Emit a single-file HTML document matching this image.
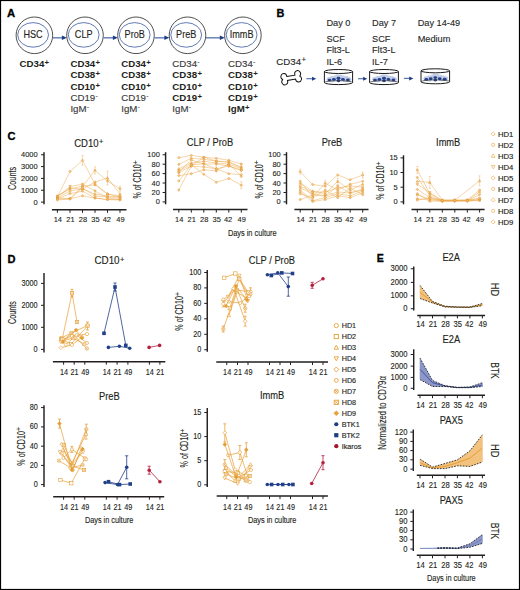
<!DOCTYPE html>
<html><head><meta charset="utf-8"><style>
html,body{margin:0;padding:0;background:#fff;}
body{width:520px;height:590px;overflow:hidden;}
svg{display:block;font-family:"Liberation Sans", sans-serif;}
</style></head><body>
<svg width="520" height="590" viewBox="0 0 520 590">
<rect x="0.5" y="0.5" width="519" height="589" fill="none" stroke="#000" stroke-width="1.2"/>
<text x="7.1" y="16.6" font-size="11.3" font-weight="bold" fill="#000" stroke="#000" stroke-width="0.3">A</text>
<circle cx="34.4" cy="35.3" r="18.3" fill="none" stroke="#3c3c3c" stroke-width="0.9"/>
<ellipse cx="33.1" cy="34.9" rx="15.4" ry="12.3" fill="none" stroke="#4f6cab" stroke-width="0.9"/>
<text x="33.1" y="37.8" font-size="10.28" text-anchor="middle" fill="#231f20" stroke="#231f20" stroke-width="0.14" textLength="19.21" lengthAdjust="spacingAndGlyphs">HSC</text>
<circle cx="85.0" cy="35.3" r="18.3" fill="none" stroke="#3c3c3c" stroke-width="0.9"/>
<ellipse cx="83.7" cy="34.9" rx="15.4" ry="12.3" fill="none" stroke="#4f6cab" stroke-width="0.9"/>
<text x="83.7" y="37.8" font-size="10.28" text-anchor="middle" fill="#231f20" stroke="#231f20" stroke-width="0.14" textLength="17.70" lengthAdjust="spacingAndGlyphs">CLP</text>
<circle cx="136.0" cy="35.3" r="18.3" fill="none" stroke="#3c3c3c" stroke-width="0.9"/>
<ellipse cx="134.7" cy="34.9" rx="15.4" ry="12.3" fill="none" stroke="#4f6cab" stroke-width="0.9"/>
<text x="134.7" y="37.8" font-size="10.28" text-anchor="middle" fill="#231f20" stroke="#231f20" stroke-width="0.14" textLength="20.23" lengthAdjust="spacingAndGlyphs">ProB</text>
<circle cx="187.5" cy="35.3" r="18.3" fill="none" stroke="#3c3c3c" stroke-width="0.9"/>
<ellipse cx="186.2" cy="34.9" rx="15.4" ry="12.3" fill="none" stroke="#4f6cab" stroke-width="0.9"/>
<text x="186.2" y="37.8" font-size="10.28" text-anchor="middle" fill="#231f20" stroke="#231f20" stroke-width="0.14" textLength="20.23" lengthAdjust="spacingAndGlyphs">PreB</text>
<circle cx="242.9" cy="35.3" r="18.3" fill="none" stroke="#3c3c3c" stroke-width="0.9"/>
<ellipse cx="241.6" cy="34.9" rx="15.4" ry="12.3" fill="none" stroke="#4f6cab" stroke-width="0.9"/>
<text x="241.6" y="37.8" font-size="10.28" text-anchor="middle" fill="#231f20" stroke="#231f20" stroke-width="0.14" textLength="23.76" lengthAdjust="spacingAndGlyphs">ImmB</text>
<line x1="52.7" y1="37.8" x2="62.7" y2="37.8" stroke="#6a84b8" stroke-width="1.5"/>
<path d="M61.900000000000006,35.6 L66.9,37.8 L61.900000000000006,40.1 Z" fill="#1f3d84"/>
<line x1="103.3" y1="37.8" x2="113.7" y2="37.8" stroke="#6a84b8" stroke-width="1.5"/>
<path d="M112.9,35.6 L117.9,37.8 L112.9,40.1 Z" fill="#1f3d84"/>
<line x1="154.3" y1="37.8" x2="165.2" y2="37.8" stroke="#6a84b8" stroke-width="1.5"/>
<path d="M164.39999999999998,35.6 L169.39999999999998,37.8 L164.39999999999998,40.1 Z" fill="#1f3d84"/>
<line x1="205.8" y1="37.8" x2="220.6" y2="37.8" stroke="#6a84b8" stroke-width="1.5"/>
<path d="M219.79999999999998,35.6 L224.79999999999998,37.8 L219.79999999999998,40.1 Z" fill="#1f3d84"/>
<text x="19.5" y="66.9" font-size="9.7" font-weight="bold" fill="#231f20">CD34<tspan dx="0.3" dy="-1.9" font-size="7.8">+</tspan></text>
<text x="70.4" y="66.9" font-size="9.7" font-weight="bold" fill="#231f20">CD34<tspan dx="0.3" dy="-1.9" font-size="7.8">+</tspan></text>
<text x="70.4" y="78.2" font-size="9.7" font-weight="bold" fill="#231f20">CD38<tspan dx="0.3" dy="-1.9" font-size="7.8">+</tspan></text>
<text x="70.4" y="89.5" font-size="9.7" font-weight="bold" fill="#231f20">CD10<tspan dx="0.3" dy="-1.9" font-size="7.8">+</tspan></text>
<text x="70.4" y="100.80000000000001" font-size="9.7" fill="#3a3a3a" stroke="#3a3a3a" stroke-width="0.14">CD19<tspan dx="0.2" dy="-3.3" font-size="7.0">-</tspan></text>
<text x="70.4" y="112.10000000000001" font-size="9.7" fill="#3a3a3a" stroke="#3a3a3a" stroke-width="0.14">IgM<tspan dx="0.2" dy="-3.3" font-size="7.0">-</tspan></text>
<text x="121.2" y="66.9" font-size="9.7" font-weight="bold" fill="#231f20">CD34<tspan dx="0.3" dy="-1.9" font-size="7.8">+</tspan></text>
<text x="121.2" y="78.2" font-size="9.7" font-weight="bold" fill="#231f20">CD38<tspan dx="0.3" dy="-1.9" font-size="7.8">+</tspan></text>
<text x="121.2" y="89.5" font-size="9.7" font-weight="bold" fill="#231f20">CD10<tspan dx="0.3" dy="-1.9" font-size="7.8">+</tspan></text>
<text x="121.2" y="100.80000000000001" font-size="9.7" fill="#3a3a3a" stroke="#3a3a3a" stroke-width="0.14">CD19<tspan dx="0.2" dy="-3.3" font-size="7.0">-</tspan></text>
<text x="121.2" y="112.10000000000001" font-size="9.7" fill="#3a3a3a" stroke="#3a3a3a" stroke-width="0.14">IgM<tspan dx="0.2" dy="-3.3" font-size="7.0">-</tspan></text>
<text x="172.3" y="66.9" font-size="9.7" fill="#3a3a3a" stroke="#3a3a3a" stroke-width="0.14">CD34<tspan dx="0.2" dy="-3.3" font-size="7.0">-</tspan></text>
<text x="172.3" y="78.2" font-size="9.7" font-weight="bold" fill="#231f20">CD38<tspan dx="0.3" dy="-1.9" font-size="7.8">+</tspan></text>
<text x="172.3" y="89.5" font-size="9.7" font-weight="bold" fill="#231f20">CD10<tspan dx="0.3" dy="-1.9" font-size="7.8">+</tspan></text>
<text x="172.3" y="100.80000000000001" font-size="9.7" font-weight="bold" fill="#231f20">CD19<tspan dx="0.3" dy="-1.9" font-size="7.8">+</tspan></text>
<text x="172.3" y="112.10000000000001" font-size="9.7" fill="#3a3a3a" stroke="#3a3a3a" stroke-width="0.14">IgM<tspan dx="0.2" dy="-3.3" font-size="7.0">-</tspan></text>
<text x="228.1" y="66.9" font-size="9.7" fill="#3a3a3a" stroke="#3a3a3a" stroke-width="0.14">CD34<tspan dx="0.2" dy="-3.3" font-size="7.0">-</tspan></text>
<text x="228.1" y="78.2" font-size="9.7" font-weight="bold" fill="#231f20">CD38<tspan dx="0.3" dy="-1.9" font-size="7.8">+</tspan></text>
<text x="228.1" y="89.5" font-size="9.7" font-weight="bold" fill="#231f20">CD10<tspan dx="0.3" dy="-1.9" font-size="7.8">+</tspan></text>
<text x="228.1" y="100.80000000000001" font-size="9.7" font-weight="bold" fill="#231f20">CD19<tspan dx="0.3" dy="-1.9" font-size="7.8">+</tspan></text>
<text x="228.1" y="112.10000000000001" font-size="9.7" font-weight="bold" fill="#231f20">IgM<tspan dx="0.3" dy="-1.9" font-size="7.8">+</tspan></text>
<text x="276.6" y="16.6" font-size="10.9" font-weight="bold" fill="#000" stroke="#000" stroke-width="0.3">B</text>
<text x="326.4" y="26.2" font-size="9.75" fill="#2a2a2a" stroke="#2a2a2a" stroke-width="0.14" textLength="24.03" lengthAdjust="spacingAndGlyphs">Day 0</text>
<text x="326.4" y="42.3" font-size="9.75" fill="#2a2a2a" stroke="#2a2a2a" stroke-width="0.14" textLength="18.40" lengthAdjust="spacingAndGlyphs">SCF</text>
<text x="326.4" y="53.4" font-size="9.75" fill="#2a2a2a" stroke="#2a2a2a" stroke-width="0.14" textLength="23.51" lengthAdjust="spacingAndGlyphs">Flt3-L</text>
<text x="326.4" y="64.6" font-size="9.75" fill="#2a2a2a" stroke="#2a2a2a" stroke-width="0.14" textLength="15.85" lengthAdjust="spacingAndGlyphs">IL-6</text>
<text x="372.0" y="26.2" font-size="9.75" fill="#2a2a2a" stroke="#2a2a2a" stroke-width="0.14" textLength="24.03" lengthAdjust="spacingAndGlyphs">Day 7</text>
<text x="372.0" y="42.3" font-size="9.75" fill="#2a2a2a" stroke="#2a2a2a" stroke-width="0.14" textLength="18.40" lengthAdjust="spacingAndGlyphs">SCF</text>
<text x="372.0" y="53.4" font-size="9.75" fill="#2a2a2a" stroke="#2a2a2a" stroke-width="0.14" textLength="23.51" lengthAdjust="spacingAndGlyphs">Flt3-L</text>
<text x="372.0" y="64.6" font-size="9.75" fill="#2a2a2a" stroke="#2a2a2a" stroke-width="0.14" textLength="15.85" lengthAdjust="spacingAndGlyphs">IL-7</text>
<text x="417.7" y="26.2" font-size="9.75" fill="#2a2a2a" stroke="#2a2a2a" stroke-width="0.14" textLength="42.44" lengthAdjust="spacingAndGlyphs">Day 14-49</text>
<text x="417.7" y="42.3" font-size="9.75" fill="#2a2a2a" stroke="#2a2a2a" stroke-width="0.14" textLength="32.72" lengthAdjust="spacingAndGlyphs">Medium</text>
<text x="276.3" y="64.5" font-size="9.7" fill="#2a2a2a" stroke="#2a2a2a" stroke-width="0.14">CD34<tspan dx="0.3" dy="-2.2" font-size="7.8">+</tspan></text>
<path transform="translate(291.2,77.8) rotate(-9) scale(0.9,0.95)" d="M-4.6,-2.1 L4.6,-2.1 A3.3,3.3 0 1 1 9.7,-0.4 A3.3,3.3 0 1 1 4.6,2.1 L-4.6,2.1 A3.3,3.3 0 1 1 -9.7,0.4 A3.3,3.3 0 1 1 -4.6,-2.1 Z" fill="#fff" stroke="#111" stroke-width="1.0"/>
<line x1="306.3" y1="78.7" x2="312.7" y2="78.7" stroke="#5b77b0" stroke-width="1.2"/>
<path d="M312.0,76.7 L316.2,78.7 L312.0,80.7 Z" fill="#1f3d84"/>
<line x1="358.0" y1="78.7" x2="363.8" y2="78.7" stroke="#5b77b0" stroke-width="1.2"/>
<path d="M363.1,76.7 L367.3,78.7 L363.1,80.7 Z" fill="#1f3d84"/>
<line x1="403.9" y1="78.4" x2="409.9" y2="78.4" stroke="#5b77b0" stroke-width="1.2"/>
<path d="M409.2,76.4 L413.4,78.4 L409.2,80.4 Z" fill="#1f3d84"/>
<circle cx="329.0" cy="79.3" r="2.4" fill="#c3cde6"/><circle cx="332.0" cy="78.5" r="2.4" fill="#c3cde6"/><circle cx="335.5" cy="77.7" r="2.4" fill="#c3cde6"/><circle cx="337.7" cy="76.7" r="2.4" fill="#c3cde6"/><circle cx="340.5" cy="76.9" r="2.4" fill="#c3cde6"/><circle cx="343.5" cy="77.9" r="2.4" fill="#c3cde6"/><circle cx="346.5" cy="78.5" r="2.4" fill="#c3cde6"/><circle cx="349.0" cy="79.3" r="2.4" fill="#c3cde6"/><circle cx="332.5" cy="80.1" r="2.4" fill="#c3cde6"/><circle cx="338.5" cy="79.0" r="2.4" fill="#c3cde6"/><circle cx="345.0" cy="79.9" r="2.4" fill="#c3cde6"/><ellipse cx="329.5" cy="80.1" rx="1.9" ry="1.45" fill="#23418c"/><ellipse cx="333.9" cy="79.4" rx="1.9" ry="1.45" fill="#23418c"/><ellipse cx="338.5" cy="78.3" rx="1.9" ry="1.45" fill="#23418c"/><ellipse cx="338.5" cy="80.8" rx="1.9" ry="1.45" fill="#23418c"/><ellipse cx="342.9" cy="79.4" rx="1.9" ry="1.45" fill="#23418c"/><ellipse cx="347.9" cy="80.0" rx="1.9" ry="1.45" fill="#23418c"/>
<path d="M324.4,82.6 A14.100000000000023,1.9 0 0 1 352.6,82.6" fill="none" stroke="#333" stroke-width="0.7"/>
<path d="M324.4,71.5 L324.4,82.6 A14.100000000000023,2 0 0 0 352.6,82.6 L352.6,71.5" fill="none" stroke="#1a1a1a" stroke-width="1.0"/>
<ellipse cx="338.5" cy="71.5" rx="14.100000000000023" ry="2.0" fill="none" stroke="#1a1a1a" stroke-width="1.0"/>
<circle cx="374.5" cy="79.3" r="2.4" fill="#c3cde6"/><circle cx="377.5" cy="78.5" r="2.4" fill="#c3cde6"/><circle cx="381.0" cy="77.7" r="2.4" fill="#c3cde6"/><circle cx="383.2" cy="76.7" r="2.4" fill="#c3cde6"/><circle cx="386.0" cy="76.9" r="2.4" fill="#c3cde6"/><circle cx="389.0" cy="77.9" r="2.4" fill="#c3cde6"/><circle cx="392.0" cy="78.5" r="2.4" fill="#c3cde6"/><circle cx="394.5" cy="79.3" r="2.4" fill="#c3cde6"/><circle cx="378.0" cy="80.1" r="2.4" fill="#c3cde6"/><circle cx="384.0" cy="79.0" r="2.4" fill="#c3cde6"/><circle cx="390.5" cy="79.9" r="2.4" fill="#c3cde6"/><ellipse cx="375.0" cy="80.1" rx="1.9" ry="1.45" fill="#23418c"/><ellipse cx="379.4" cy="79.4" rx="1.9" ry="1.45" fill="#23418c"/><ellipse cx="384.0" cy="78.3" rx="1.9" ry="1.45" fill="#23418c"/><ellipse cx="384.0" cy="80.8" rx="1.9" ry="1.45" fill="#23418c"/><ellipse cx="388.4" cy="79.4" rx="1.9" ry="1.45" fill="#23418c"/><ellipse cx="393.4" cy="80.0" rx="1.9" ry="1.45" fill="#23418c"/>
<path d="M369.6,82.6 A14.399999999999977,1.9 0 0 1 398.4,82.6" fill="none" stroke="#333" stroke-width="0.7"/>
<path d="M369.6,71.5 L369.6,82.6 A14.399999999999977,2 0 0 0 398.4,82.6 L398.4,71.5" fill="none" stroke="#1a1a1a" stroke-width="1.0"/>
<ellipse cx="384.0" cy="71.5" rx="14.399999999999977" ry="2.0" fill="none" stroke="#1a1a1a" stroke-width="1.0"/>
<circle cx="425.8" cy="78.6" r="2.4" fill="#c3cde6"/><circle cx="428.8" cy="77.8" r="2.4" fill="#c3cde6"/><circle cx="432.3" cy="77.0" r="2.4" fill="#c3cde6"/><circle cx="434.5" cy="76.0" r="2.4" fill="#c3cde6"/><circle cx="437.3" cy="76.2" r="2.4" fill="#c3cde6"/><circle cx="440.3" cy="77.2" r="2.4" fill="#c3cde6"/><circle cx="443.3" cy="77.8" r="2.4" fill="#c3cde6"/><circle cx="445.8" cy="78.6" r="2.4" fill="#c3cde6"/><circle cx="429.3" cy="79.39999999999999" r="2.4" fill="#c3cde6"/><circle cx="435.3" cy="78.3" r="2.4" fill="#c3cde6"/><circle cx="441.8" cy="79.2" r="2.4" fill="#c3cde6"/><ellipse cx="426.3" cy="79.39999999999999" rx="1.9" ry="1.45" fill="#23418c"/><ellipse cx="430.7" cy="78.7" rx="1.9" ry="1.45" fill="#23418c"/><ellipse cx="435.3" cy="77.6" rx="1.9" ry="1.45" fill="#23418c"/><ellipse cx="435.3" cy="80.1" rx="1.9" ry="1.45" fill="#23418c"/><ellipse cx="439.7" cy="78.7" rx="1.9" ry="1.45" fill="#23418c"/><ellipse cx="444.7" cy="79.3" rx="1.9" ry="1.45" fill="#23418c"/>
<path d="M421.0,81.8 A14.300000000000011,1.9 0 0 1 449.6,81.8" fill="none" stroke="#333" stroke-width="0.7"/>
<path d="M421.0,70.8 L421.0,81.8 A14.300000000000011,2 0 0 0 449.6,81.8 L449.6,70.8" fill="none" stroke="#1a1a1a" stroke-width="1.0"/>
<ellipse cx="435.3" cy="70.8" rx="14.300000000000011" ry="2.0" fill="none" stroke="#1a1a1a" stroke-width="1.0"/>
<text x="7.5" y="140.1" font-size="11.1" font-weight="bold" fill="#000" stroke="#000" stroke-width="0.3">C</text>
<line x1="44.0" y1="152.2" x2="44.0" y2="204.3" stroke="#231f20" stroke-width="1.45"/>
<line x1="41.0" y1="154.75" x2="44.0" y2="154.75" stroke="#231f20" stroke-width="1.0"/>
<text x="37.6" y="157.25" font-size="8.0" text-anchor="end" textLength="16.6" lengthAdjust="spacingAndGlyphs" fill="#231f20" stroke="#231f20" stroke-width="0.12">4000</text>
<line x1="41.0" y1="166.6" x2="44.0" y2="166.6" stroke="#231f20" stroke-width="1.0"/>
<text x="37.6" y="169.1" font-size="8.0" text-anchor="end" textLength="16.6" lengthAdjust="spacingAndGlyphs" fill="#231f20" stroke="#231f20" stroke-width="0.12">3000</text>
<line x1="41.0" y1="178.4" x2="44.0" y2="178.4" stroke="#231f20" stroke-width="1.0"/>
<text x="37.6" y="180.9" font-size="8.0" text-anchor="end" textLength="16.6" lengthAdjust="spacingAndGlyphs" fill="#231f20" stroke="#231f20" stroke-width="0.12">2000</text>
<line x1="41.0" y1="190.25" x2="44.0" y2="190.25" stroke="#231f20" stroke-width="1.0"/>
<text x="37.6" y="192.75" font-size="8.0" text-anchor="end" textLength="16.6" lengthAdjust="spacingAndGlyphs" fill="#231f20" stroke="#231f20" stroke-width="0.12">1000</text>
<line x1="41.0" y1="202.1" x2="44.0" y2="202.1" stroke="#231f20" stroke-width="1.0"/>
<text x="37.6" y="204.6" font-size="8.0" text-anchor="end" textLength="4.15" lengthAdjust="spacingAndGlyphs" fill="#231f20" stroke="#231f20" stroke-width="0.12">0</text>
<line x1="51.9" y1="209.8" x2="126.5" y2="209.8" stroke="#231f20" stroke-width="1.5"/>
<line x1="57.4" y1="209.8" x2="57.4" y2="212.8" stroke="#231f20" stroke-width="1.0"/>
<line x1="70.0" y1="209.8" x2="70.0" y2="212.8" stroke="#231f20" stroke-width="1.0"/>
<line x1="82.5" y1="209.8" x2="82.5" y2="212.8" stroke="#231f20" stroke-width="1.0"/>
<line x1="95.0" y1="209.8" x2="95.0" y2="212.8" stroke="#231f20" stroke-width="1.0"/>
<line x1="107.5" y1="209.8" x2="107.5" y2="212.8" stroke="#231f20" stroke-width="1.0"/>
<line x1="120.0" y1="209.8" x2="120.0" y2="212.8" stroke="#231f20" stroke-width="1.0"/>
<text x="57.8" y="222.4" font-size="8.0" text-anchor="middle" textLength="8.3" lengthAdjust="spacingAndGlyphs" fill="#231f20" stroke="#231f20" stroke-width="0.12">14</text>
<text x="70.4" y="222.4" font-size="8.0" text-anchor="middle" textLength="8.3" lengthAdjust="spacingAndGlyphs" fill="#231f20" stroke="#231f20" stroke-width="0.12">21</text>
<text x="82.9" y="222.4" font-size="8.0" text-anchor="middle" textLength="8.3" lengthAdjust="spacingAndGlyphs" fill="#231f20" stroke="#231f20" stroke-width="0.12">28</text>
<text x="95.4" y="222.4" font-size="8.0" text-anchor="middle" textLength="8.3" lengthAdjust="spacingAndGlyphs" fill="#231f20" stroke="#231f20" stroke-width="0.12">35</text>
<text x="106.80000000000001" y="222.4" font-size="8.0" text-anchor="middle" textLength="8.3" lengthAdjust="spacingAndGlyphs" fill="#231f20" stroke="#231f20" stroke-width="0.12">42</text>
<text x="120.4" y="222.4" font-size="8.0" text-anchor="middle" textLength="8.3" lengthAdjust="spacingAndGlyphs" fill="#231f20" stroke="#231f20" stroke-width="0.12">49</text>
<line x1="165.6" y1="152.2" x2="165.6" y2="204.3" stroke="#231f20" stroke-width="1.45"/>
<line x1="162.6" y1="154.75" x2="165.6" y2="154.75" stroke="#231f20" stroke-width="1.0"/>
<text x="159.8" y="157.25" font-size="8.0" text-anchor="end" textLength="12.45" lengthAdjust="spacingAndGlyphs" fill="#231f20" stroke="#231f20" stroke-width="0.12">100</text>
<line x1="162.6" y1="164.2" x2="165.6" y2="164.2" stroke="#231f20" stroke-width="1.0"/>
<text x="159.8" y="166.7" font-size="8.0" text-anchor="end" textLength="8.3" lengthAdjust="spacingAndGlyphs" fill="#231f20" stroke="#231f20" stroke-width="0.12">80</text>
<line x1="162.6" y1="173.6" x2="165.6" y2="173.6" stroke="#231f20" stroke-width="1.0"/>
<text x="159.8" y="176.1" font-size="8.0" text-anchor="end" textLength="8.3" lengthAdjust="spacingAndGlyphs" fill="#231f20" stroke="#231f20" stroke-width="0.12">60</text>
<line x1="162.6" y1="183.0" x2="165.6" y2="183.0" stroke="#231f20" stroke-width="1.0"/>
<text x="159.8" y="185.5" font-size="8.0" text-anchor="end" textLength="8.3" lengthAdjust="spacingAndGlyphs" fill="#231f20" stroke="#231f20" stroke-width="0.12">40</text>
<line x1="162.6" y1="192.5" x2="165.6" y2="192.5" stroke="#231f20" stroke-width="1.0"/>
<text x="159.8" y="195.0" font-size="8.0" text-anchor="end" textLength="8.3" lengthAdjust="spacingAndGlyphs" fill="#231f20" stroke="#231f20" stroke-width="0.12">20</text>
<line x1="162.6" y1="201.9" x2="165.6" y2="201.9" stroke="#231f20" stroke-width="1.0"/>
<text x="159.8" y="204.4" font-size="8.0" text-anchor="end" textLength="4.15" lengthAdjust="spacingAndGlyphs" fill="#231f20" stroke="#231f20" stroke-width="0.12">0</text>
<line x1="173.0" y1="209.6" x2="247.5" y2="209.6" stroke="#231f20" stroke-width="1.5"/>
<line x1="178.8" y1="209.6" x2="178.8" y2="212.6" stroke="#231f20" stroke-width="1.0"/>
<line x1="191.3" y1="209.6" x2="191.3" y2="212.6" stroke="#231f20" stroke-width="1.0"/>
<line x1="203.8" y1="209.6" x2="203.8" y2="212.6" stroke="#231f20" stroke-width="1.0"/>
<line x1="216.3" y1="209.6" x2="216.3" y2="212.6" stroke="#231f20" stroke-width="1.0"/>
<line x1="228.8" y1="209.6" x2="228.8" y2="212.6" stroke="#231f20" stroke-width="1.0"/>
<line x1="241.3" y1="209.6" x2="241.3" y2="212.6" stroke="#231f20" stroke-width="1.0"/>
<text x="179.20000000000002" y="222.4" font-size="8.0" text-anchor="middle" textLength="8.3" lengthAdjust="spacingAndGlyphs" fill="#231f20" stroke="#231f20" stroke-width="0.12">14</text>
<text x="191.70000000000002" y="222.4" font-size="8.0" text-anchor="middle" textLength="8.3" lengthAdjust="spacingAndGlyphs" fill="#231f20" stroke="#231f20" stroke-width="0.12">21</text>
<text x="204.20000000000002" y="222.4" font-size="8.0" text-anchor="middle" textLength="8.3" lengthAdjust="spacingAndGlyphs" fill="#231f20" stroke="#231f20" stroke-width="0.12">28</text>
<text x="216.70000000000002" y="222.4" font-size="8.0" text-anchor="middle" textLength="8.3" lengthAdjust="spacingAndGlyphs" fill="#231f20" stroke="#231f20" stroke-width="0.12">35</text>
<text x="228.10000000000002" y="222.4" font-size="8.0" text-anchor="middle" textLength="8.3" lengthAdjust="spacingAndGlyphs" fill="#231f20" stroke="#231f20" stroke-width="0.12">42</text>
<text x="241.70000000000002" y="222.4" font-size="8.0" text-anchor="middle" textLength="8.3" lengthAdjust="spacingAndGlyphs" fill="#231f20" stroke="#231f20" stroke-width="0.12">49</text>
<line x1="286.5" y1="152.2" x2="286.5" y2="204.3" stroke="#231f20" stroke-width="1.45"/>
<line x1="283.5" y1="154.75" x2="286.5" y2="154.75" stroke="#231f20" stroke-width="1.0"/>
<text x="280.7" y="157.25" font-size="8.0" text-anchor="end" textLength="12.45" lengthAdjust="spacingAndGlyphs" fill="#231f20" stroke="#231f20" stroke-width="0.12">100</text>
<line x1="283.5" y1="164.2" x2="286.5" y2="164.2" stroke="#231f20" stroke-width="1.0"/>
<text x="280.7" y="166.7" font-size="8.0" text-anchor="end" textLength="8.3" lengthAdjust="spacingAndGlyphs" fill="#231f20" stroke="#231f20" stroke-width="0.12">80</text>
<line x1="283.5" y1="173.6" x2="286.5" y2="173.6" stroke="#231f20" stroke-width="1.0"/>
<text x="280.7" y="176.1" font-size="8.0" text-anchor="end" textLength="8.3" lengthAdjust="spacingAndGlyphs" fill="#231f20" stroke="#231f20" stroke-width="0.12">60</text>
<line x1="283.5" y1="183.0" x2="286.5" y2="183.0" stroke="#231f20" stroke-width="1.0"/>
<text x="280.7" y="185.5" font-size="8.0" text-anchor="end" textLength="8.3" lengthAdjust="spacingAndGlyphs" fill="#231f20" stroke="#231f20" stroke-width="0.12">40</text>
<line x1="283.5" y1="192.5" x2="286.5" y2="192.5" stroke="#231f20" stroke-width="1.0"/>
<text x="280.7" y="195.0" font-size="8.0" text-anchor="end" textLength="8.3" lengthAdjust="spacingAndGlyphs" fill="#231f20" stroke="#231f20" stroke-width="0.12">20</text>
<line x1="283.5" y1="201.9" x2="286.5" y2="201.9" stroke="#231f20" stroke-width="1.0"/>
<text x="280.7" y="204.4" font-size="8.0" text-anchor="end" textLength="4.15" lengthAdjust="spacingAndGlyphs" fill="#231f20" stroke="#231f20" stroke-width="0.12">0</text>
<line x1="294.4" y1="209.6" x2="368.5" y2="209.6" stroke="#231f20" stroke-width="1.5"/>
<line x1="300.2" y1="209.6" x2="300.2" y2="212.6" stroke="#231f20" stroke-width="1.0"/>
<line x1="312.7" y1="209.6" x2="312.7" y2="212.6" stroke="#231f20" stroke-width="1.0"/>
<line x1="325.2" y1="209.6" x2="325.2" y2="212.6" stroke="#231f20" stroke-width="1.0"/>
<line x1="337.7" y1="209.6" x2="337.7" y2="212.6" stroke="#231f20" stroke-width="1.0"/>
<line x1="350.2" y1="209.6" x2="350.2" y2="212.6" stroke="#231f20" stroke-width="1.0"/>
<line x1="362.7" y1="209.6" x2="362.7" y2="212.6" stroke="#231f20" stroke-width="1.0"/>
<text x="300.59999999999997" y="222.4" font-size="8.0" text-anchor="middle" textLength="8.3" lengthAdjust="spacingAndGlyphs" fill="#231f20" stroke="#231f20" stroke-width="0.12">14</text>
<text x="313.09999999999997" y="222.4" font-size="8.0" text-anchor="middle" textLength="8.3" lengthAdjust="spacingAndGlyphs" fill="#231f20" stroke="#231f20" stroke-width="0.12">21</text>
<text x="325.59999999999997" y="222.4" font-size="8.0" text-anchor="middle" textLength="8.3" lengthAdjust="spacingAndGlyphs" fill="#231f20" stroke="#231f20" stroke-width="0.12">28</text>
<text x="338.09999999999997" y="222.4" font-size="8.0" text-anchor="middle" textLength="8.3" lengthAdjust="spacingAndGlyphs" fill="#231f20" stroke="#231f20" stroke-width="0.12">35</text>
<text x="349.49999999999994" y="222.4" font-size="8.0" text-anchor="middle" textLength="8.3" lengthAdjust="spacingAndGlyphs" fill="#231f20" stroke="#231f20" stroke-width="0.12">42</text>
<text x="363.09999999999997" y="222.4" font-size="8.0" text-anchor="middle" textLength="8.3" lengthAdjust="spacingAndGlyphs" fill="#231f20" stroke="#231f20" stroke-width="0.12">49</text>
<line x1="403.5" y1="155.3" x2="403.5" y2="204.3" stroke="#231f20" stroke-width="1.45"/>
<line x1="400.5" y1="157.9" x2="403.5" y2="157.9" stroke="#231f20" stroke-width="1.0"/>
<text x="397.7" y="160.4" font-size="8.0" text-anchor="end" textLength="8.3" lengthAdjust="spacingAndGlyphs" fill="#231f20" stroke="#231f20" stroke-width="0.12">15</text>
<line x1="400.5" y1="172.5" x2="403.5" y2="172.5" stroke="#231f20" stroke-width="1.0"/>
<text x="397.7" y="175.0" font-size="8.0" text-anchor="end" textLength="8.3" lengthAdjust="spacingAndGlyphs" fill="#231f20" stroke="#231f20" stroke-width="0.12">10</text>
<line x1="400.5" y1="187.2" x2="403.5" y2="187.2" stroke="#231f20" stroke-width="1.0"/>
<text x="397.7" y="189.7" font-size="8.0" text-anchor="end" textLength="4.15" lengthAdjust="spacingAndGlyphs" fill="#231f20" stroke="#231f20" stroke-width="0.12">5</text>
<line x1="400.5" y1="201.9" x2="403.5" y2="201.9" stroke="#231f20" stroke-width="1.0"/>
<text x="397.7" y="204.4" font-size="8.0" text-anchor="end" textLength="4.15" lengthAdjust="spacingAndGlyphs" fill="#231f20" stroke="#231f20" stroke-width="0.12">0</text>
<line x1="411.5" y1="209.6" x2="484.6" y2="209.6" stroke="#231f20" stroke-width="1.5"/>
<line x1="417.3" y1="209.6" x2="417.3" y2="212.6" stroke="#231f20" stroke-width="1.0"/>
<line x1="429.8" y1="209.6" x2="429.8" y2="212.6" stroke="#231f20" stroke-width="1.0"/>
<line x1="442.3" y1="209.6" x2="442.3" y2="212.6" stroke="#231f20" stroke-width="1.0"/>
<line x1="454.8" y1="209.6" x2="454.8" y2="212.6" stroke="#231f20" stroke-width="1.0"/>
<line x1="467.3" y1="209.6" x2="467.3" y2="212.6" stroke="#231f20" stroke-width="1.0"/>
<line x1="479.6" y1="209.6" x2="479.6" y2="212.6" stroke="#231f20" stroke-width="1.0"/>
<text x="417.7" y="222.4" font-size="8.0" text-anchor="middle" textLength="8.3" lengthAdjust="spacingAndGlyphs" fill="#231f20" stroke="#231f20" stroke-width="0.12">14</text>
<text x="430.2" y="222.4" font-size="8.0" text-anchor="middle" textLength="8.3" lengthAdjust="spacingAndGlyphs" fill="#231f20" stroke="#231f20" stroke-width="0.12">21</text>
<text x="442.7" y="222.4" font-size="8.0" text-anchor="middle" textLength="8.3" lengthAdjust="spacingAndGlyphs" fill="#231f20" stroke="#231f20" stroke-width="0.12">28</text>
<text x="455.2" y="222.4" font-size="8.0" text-anchor="middle" textLength="8.3" lengthAdjust="spacingAndGlyphs" fill="#231f20" stroke="#231f20" stroke-width="0.12">35</text>
<text x="466.59999999999997" y="222.4" font-size="8.0" text-anchor="middle" textLength="8.3" lengthAdjust="spacingAndGlyphs" fill="#231f20" stroke="#231f20" stroke-width="0.12">42</text>
<text x="480.0" y="222.4" font-size="8.0" text-anchor="middle" textLength="8.3" lengthAdjust="spacingAndGlyphs" fill="#231f20" stroke="#231f20" stroke-width="0.12">49</text>
<text x="74.2" y="146.6" font-size="10.34" fill="#231f20" stroke="#231f20" stroke-width="0.14"><tspan textLength="24.40" lengthAdjust="spacingAndGlyphs">CD10</tspan><tspan dx="0.5" dy="-2.8" font-size="7.6">+</tspan></text>
<text x="210.0" y="145.9" font-size="10.04" text-anchor="middle" fill="#231f20" stroke="#231f20" stroke-width="0.14" textLength="46.35" lengthAdjust="spacingAndGlyphs">CLP / ProB</text>
<text x="332.0" y="146.2" font-size="10.04" text-anchor="middle" fill="#231f20" stroke="#231f20" stroke-width="0.14" textLength="20.68" lengthAdjust="spacingAndGlyphs">PreB</text>
<text x="448.2" y="146.2" font-size="10.04" text-anchor="middle" fill="#231f20" stroke="#231f20" stroke-width="0.14" textLength="24.28" lengthAdjust="spacingAndGlyphs">ImmB</text>
<text transform="translate(15.7,178.45) rotate(-90)" font-size="10.0" text-anchor="middle" fill="#231f20" stroke="#231f20" stroke-width="0.12" textLength="23.1" lengthAdjust="spacingAndGlyphs">Counts</text>
<text transform="translate(141.3,198.6) rotate(-90)" font-size="10.0" fill="#231f20" stroke="#231f20" stroke-width="0.1"><tspan textLength="34.3" lengthAdjust="spacingAndGlyphs">% of CD10</tspan><tspan dy="-3.6" font-size="7.0">+</tspan></text>
<text transform="translate(262.8,198.6) rotate(-90)" font-size="10.0" fill="#231f20" stroke="#231f20" stroke-width="0.1"><tspan textLength="34.3" lengthAdjust="spacingAndGlyphs">% of CD10</tspan><tspan dy="-3.6" font-size="7.0">+</tspan></text>
<text transform="translate(384.2,199.8) rotate(-90)" font-size="10.0" fill="#231f20" stroke="#231f20" stroke-width="0.1"><tspan textLength="34.3" lengthAdjust="spacingAndGlyphs">% of CD10</tspan><tspan dy="-3.6" font-size="7.0">+</tspan></text>
<text x="227.9" y="235.7" font-size="9.2" textLength="48.7" lengthAdjust="spacingAndGlyphs" fill="#231f20" stroke="#231f20" stroke-width="0.14">Days in culture</text>
<path d="M493.2,131.83 L495.27,133.9 L493.2,135.97 L491.13,133.9 Z" fill="#fff" stroke="#f0b86a" stroke-width="0.8"/>
<text x="498.0" y="136.5" font-size="7.7" fill="#231f20" stroke="#231f20" stroke-width="0.14">HD1</text>
<circle cx="493.2" cy="144.9" r="1.62" fill="#fff" stroke="#f0b86a" stroke-width="0.8"/>
<text x="498.0" y="147.5" font-size="7.7" fill="#231f20" stroke="#231f20" stroke-width="0.14">HD2</text>
<path d="M493.2,153.92000000000002 L495.09,157.34 L491.31,157.34 Z" fill="#fff" stroke="#f0b86a" stroke-width="0.8"/>
<text x="498.0" y="158.5" font-size="7.7" fill="#231f20" stroke="#231f20" stroke-width="0.14">HD3</text>
<path d="M493.2,168.88 L495.09,165.46 L491.31,165.46 Z" fill="#fff" stroke="#f0b86a" stroke-width="0.8"/>
<text x="498.0" y="169.5" font-size="7.7" fill="#231f20" stroke="#231f20" stroke-width="0.14">HD4</text>
<path d="M493.2,175.83 L495.27,177.9 L493.2,179.97 L491.13,177.9 Z" fill="#fff" stroke="#f0b86a" stroke-width="0.8"/>
<text x="498.0" y="180.5" font-size="7.7" fill="#231f20" stroke="#231f20" stroke-width="0.14">HD5</text>
<circle cx="493.2" cy="188.9" r="1.62" fill="#fff" stroke="#f0b86a" stroke-width="0.8"/>
<text x="498.0" y="191.5" font-size="7.7" fill="#231f20" stroke="#231f20" stroke-width="0.14">HD6</text>
<path d="M493.2,197.83 L495.27,199.9 L493.2,201.97 L491.13,199.9 Z" fill="#fff" stroke="#f0b86a" stroke-width="0.8"/>
<text x="498.0" y="202.5" font-size="7.7" fill="#231f20" stroke="#231f20" stroke-width="0.14">HD7</text>
<circle cx="493.2" cy="210.9" r="1.62" fill="#fff" stroke="#f0b86a" stroke-width="0.8"/>
<text x="498.0" y="213.5" font-size="7.7" fill="#231f20" stroke="#231f20" stroke-width="0.14">HD8</text>
<path d="M493.2,219.83 L495.27,221.9 L493.2,223.97 L491.13,221.9 Z" fill="#fff" stroke="#f0b86a" stroke-width="0.8"/>
<text x="498.0" y="224.5" font-size="7.7" fill="#231f20" stroke="#231f20" stroke-width="0.14">HD9</text>
<polyline points="57.4,197 70.0,171.5 82.5,160.4 95.0,184 107.5,194 120.0,197" fill="none" stroke="#eca84b" stroke-width="0.6" opacity="0.8"/>
<path d="M82.5,155.4 L82.5,165.4 M81.5,155.4 L83.5,155.4 M81.5,165.4 L83.5,165.4" stroke="#eca84b" stroke-width="0.5" opacity="0.8"/>
<path d="M57.4,195.6775 L58.7225,197 L57.4,198.3225 L56.0775,197 Z" fill="#f2c080" stroke="#e2962a" stroke-width="0.6" opacity="0.8"/><path d="M70.0,170.1775 L71.3225,171.5 L70.0,172.8225 L68.6775,171.5 Z" fill="#f2c080" stroke="#e2962a" stroke-width="0.6" opacity="0.8"/><path d="M82.5,159.07750000000001 L83.8225,160.4 L82.5,161.7225 L81.1775,160.4 Z" fill="#f2c080" stroke="#e2962a" stroke-width="0.6" opacity="0.8"/><path d="M95.0,182.6775 L96.3225,184 L95.0,185.3225 L93.6775,184 Z" fill="#f2c080" stroke="#e2962a" stroke-width="0.6" opacity="0.8"/><path d="M107.5,192.6775 L108.8225,194 L107.5,195.3225 L106.1775,194 Z" fill="#f2c080" stroke="#e2962a" stroke-width="0.6" opacity="0.8"/><path d="M120.0,195.6775 L121.3225,197 L120.0,198.3225 L118.6775,197 Z" fill="#f2c080" stroke="#e2962a" stroke-width="0.6" opacity="0.8"/>
<polyline points="57.4,198 70.0,198.5 82.5,186.5 95.0,170.4 107.5,181 120.0,188.8" fill="none" stroke="#eca84b" stroke-width="0.6" opacity="0.8"/>
<path d="M95.0,166.9 L95.0,173.9 M94.0,166.9 L96.0,166.9 M94.0,173.9 L96.0,173.9" stroke="#eca84b" stroke-width="0.5" opacity="0.8"/>
<path d="M120.0,186.3 L120.0,191.3 M119.0,186.3 L121.0,186.3 M119.0,191.3 L121.0,191.3" stroke="#eca84b" stroke-width="0.5" opacity="0.8"/>
<circle cx="57.4" cy="198" r="1.035" fill="#f2c080" stroke="#e2962a" stroke-width="0.6" opacity="0.8"/><circle cx="70.0" cy="198.5" r="1.035" fill="#f2c080" stroke="#e2962a" stroke-width="0.6" opacity="0.8"/><circle cx="82.5" cy="186.5" r="1.035" fill="#f2c080" stroke="#e2962a" stroke-width="0.6" opacity="0.8"/><circle cx="95.0" cy="170.4" r="1.035" fill="#f2c080" stroke="#e2962a" stroke-width="0.6" opacity="0.8"/><circle cx="107.5" cy="181" r="1.035" fill="#f2c080" stroke="#e2962a" stroke-width="0.6" opacity="0.8"/><circle cx="120.0" cy="188.8" r="1.035" fill="#f2c080" stroke="#e2962a" stroke-width="0.6" opacity="0.8"/>
<polyline points="57.4,196 70.0,188 82.5,189 95.0,182 107.5,178 120.0,194" fill="none" stroke="#eca84b" stroke-width="0.6" opacity="0.8"/>
<path d="M107.5,171 L107.5,185 M106.5,171 L108.5,171 M106.5,185 L108.5,185" stroke="#eca84b" stroke-width="0.5" opacity="0.8"/>
<path d="M57.4,194.735 L58.6075,196.92 L56.192499999999995,196.92 Z" fill="#f2c080" stroke="#e2962a" stroke-width="0.6" opacity="0.8"/><path d="M70.0,186.735 L71.2075,188.92 L68.7925,188.92 Z" fill="#f2c080" stroke="#e2962a" stroke-width="0.6" opacity="0.8"/><path d="M82.5,187.735 L83.7075,189.92 L81.2925,189.92 Z" fill="#f2c080" stroke="#e2962a" stroke-width="0.6" opacity="0.8"/><path d="M95.0,180.735 L96.2075,182.92 L93.7925,182.92 Z" fill="#f2c080" stroke="#e2962a" stroke-width="0.6" opacity="0.8"/><path d="M107.5,176.735 L108.7075,178.92 L106.2925,178.92 Z" fill="#f2c080" stroke="#e2962a" stroke-width="0.6" opacity="0.8"/><path d="M120.0,192.735 L121.2075,194.92 L118.7925,194.92 Z" fill="#f2c080" stroke="#e2962a" stroke-width="0.6" opacity="0.8"/>
<polyline points="57.4,197 70.0,186.5 82.5,184.2 95.0,191 107.5,198 120.0,199.5" fill="none" stroke="#eca84b" stroke-width="0.6" opacity="0.8"/>
<path d="M57.4,198.265 L58.6075,196.08 L56.192499999999995,196.08 Z" fill="#f2c080" stroke="#e2962a" stroke-width="0.6" opacity="0.8"/><path d="M70.0,187.765 L71.2075,185.58 L68.7925,185.58 Z" fill="#f2c080" stroke="#e2962a" stroke-width="0.6" opacity="0.8"/><path d="M82.5,185.46499999999997 L83.7075,183.28 L81.2925,183.28 Z" fill="#f2c080" stroke="#e2962a" stroke-width="0.6" opacity="0.8"/><path d="M95.0,192.265 L96.2075,190.08 L93.7925,190.08 Z" fill="#f2c080" stroke="#e2962a" stroke-width="0.6" opacity="0.8"/><path d="M107.5,199.265 L108.7075,197.08 L106.2925,197.08 Z" fill="#f2c080" stroke="#e2962a" stroke-width="0.6" opacity="0.8"/><path d="M120.0,200.765 L121.2075,198.58 L118.7925,198.58 Z" fill="#f2c080" stroke="#e2962a" stroke-width="0.6" opacity="0.8"/>
<polyline points="57.4,198 70.0,191 82.5,188.8 95.0,194 107.5,196 120.0,197" fill="none" stroke="#eca84b" stroke-width="0.6" opacity="0.8"/>
<path d="M57.4,196.6775 L58.7225,198 L57.4,199.3225 L56.0775,198 Z" fill="#f2c080" stroke="#e2962a" stroke-width="0.6" opacity="0.8"/><path d="M70.0,189.6775 L71.3225,191 L70.0,192.3225 L68.6775,191 Z" fill="#f2c080" stroke="#e2962a" stroke-width="0.6" opacity="0.8"/><path d="M82.5,187.47750000000002 L83.8225,188.8 L82.5,190.1225 L81.1775,188.8 Z" fill="#f2c080" stroke="#e2962a" stroke-width="0.6" opacity="0.8"/><path d="M95.0,192.6775 L96.3225,194 L95.0,195.3225 L93.6775,194 Z" fill="#f2c080" stroke="#e2962a" stroke-width="0.6" opacity="0.8"/><path d="M107.5,194.6775 L108.8225,196 L107.5,197.3225 L106.1775,196 Z" fill="#f2c080" stroke="#e2962a" stroke-width="0.6" opacity="0.8"/><path d="M120.0,195.6775 L121.3225,197 L120.0,198.3225 L118.6775,197 Z" fill="#f2c080" stroke="#e2962a" stroke-width="0.6" opacity="0.8"/>
<polyline points="57.4,199 70.0,193.5 82.5,191.2 95.0,198 107.5,199.5 120.0,199.5" fill="none" stroke="#eca84b" stroke-width="0.6" opacity="0.8"/>
<circle cx="57.4" cy="199" r="1.035" fill="#f2c080" stroke="#e2962a" stroke-width="0.6" opacity="0.8"/><circle cx="70.0" cy="193.5" r="1.035" fill="#f2c080" stroke="#e2962a" stroke-width="0.6" opacity="0.8"/><circle cx="82.5" cy="191.2" r="1.035" fill="#f2c080" stroke="#e2962a" stroke-width="0.6" opacity="0.8"/><circle cx="95.0" cy="198" r="1.035" fill="#f2c080" stroke="#e2962a" stroke-width="0.6" opacity="0.8"/><circle cx="107.5" cy="199.5" r="1.035" fill="#f2c080" stroke="#e2962a" stroke-width="0.6" opacity="0.8"/><circle cx="120.0" cy="199.5" r="1.035" fill="#f2c080" stroke="#e2962a" stroke-width="0.6" opacity="0.8"/>
<polyline points="57.4,199 70.0,198.8 82.5,195.8 95.0,198 107.5,199.6 120.0,200" fill="none" stroke="#eca84b" stroke-width="0.6" opacity="0.8"/>
<path d="M57.4,197.6775 L58.7225,199 L57.4,200.3225 L56.0775,199 Z" fill="#f2c080" stroke="#e2962a" stroke-width="0.6" opacity="0.8"/><path d="M70.0,197.47750000000002 L71.3225,198.8 L70.0,200.1225 L68.6775,198.8 Z" fill="#f2c080" stroke="#e2962a" stroke-width="0.6" opacity="0.8"/><path d="M82.5,194.47750000000002 L83.8225,195.8 L82.5,197.1225 L81.1775,195.8 Z" fill="#f2c080" stroke="#e2962a" stroke-width="0.6" opacity="0.8"/><path d="M95.0,196.6775 L96.3225,198 L95.0,199.3225 L93.6775,198 Z" fill="#f2c080" stroke="#e2962a" stroke-width="0.6" opacity="0.8"/><path d="M107.5,198.2775 L108.8225,199.6 L107.5,200.92249999999999 L106.1775,199.6 Z" fill="#f2c080" stroke="#e2962a" stroke-width="0.6" opacity="0.8"/><path d="M120.0,198.6775 L121.3225,200 L120.0,201.3225 L118.6775,200 Z" fill="#f2c080" stroke="#e2962a" stroke-width="0.6" opacity="0.8"/>
<polyline points="57.4,196 70.0,189 82.5,186 95.0,185 107.5,194 120.0,196" fill="none" stroke="#eca84b" stroke-width="0.6" opacity="0.8"/>
<circle cx="57.4" cy="196" r="1.035" fill="#f2c080" stroke="#e2962a" stroke-width="0.6" opacity="0.8"/><circle cx="70.0" cy="189" r="1.035" fill="#f2c080" stroke="#e2962a" stroke-width="0.6" opacity="0.8"/><circle cx="82.5" cy="186" r="1.035" fill="#f2c080" stroke="#e2962a" stroke-width="0.6" opacity="0.8"/><circle cx="95.0" cy="185" r="1.035" fill="#f2c080" stroke="#e2962a" stroke-width="0.6" opacity="0.8"/><circle cx="107.5" cy="194" r="1.035" fill="#f2c080" stroke="#e2962a" stroke-width="0.6" opacity="0.8"/><circle cx="120.0" cy="196" r="1.035" fill="#f2c080" stroke="#e2962a" stroke-width="0.6" opacity="0.8"/>
<polyline points="57.4,200 70.0,199 82.5,188 95.0,196 107.5,197 120.0,198" fill="none" stroke="#eca84b" stroke-width="0.6" opacity="0.8"/>
<path d="M57.4,198.6775 L58.7225,200 L57.4,201.3225 L56.0775,200 Z" fill="#f2c080" stroke="#e2962a" stroke-width="0.6" opacity="0.8"/><path d="M70.0,197.6775 L71.3225,199 L70.0,200.3225 L68.6775,199 Z" fill="#f2c080" stroke="#e2962a" stroke-width="0.6" opacity="0.8"/><path d="M82.5,186.6775 L83.8225,188 L82.5,189.3225 L81.1775,188 Z" fill="#f2c080" stroke="#e2962a" stroke-width="0.6" opacity="0.8"/><path d="M95.0,194.6775 L96.3225,196 L95.0,197.3225 L93.6775,196 Z" fill="#f2c080" stroke="#e2962a" stroke-width="0.6" opacity="0.8"/><path d="M107.5,195.6775 L108.8225,197 L107.5,198.3225 L106.1775,197 Z" fill="#f2c080" stroke="#e2962a" stroke-width="0.6" opacity="0.8"/><path d="M120.0,196.6775 L121.3225,198 L120.0,199.3225 L118.6775,198 Z" fill="#f2c080" stroke="#e2962a" stroke-width="0.6" opacity="0.8"/>
<polyline points="178.8,157.7 191.3,155.4 203.8,157.3 216.3,158.3 228.8,160.2 241.3,164" fill="none" stroke="#eca84b" stroke-width="0.6" opacity="0.8"/>
<path d="M178.8,156.3775 L180.1225,157.7 L178.8,159.02249999999998 L177.47750000000002,157.7 Z" fill="#f2c080" stroke="#e2962a" stroke-width="0.6" opacity="0.8"/><path d="M191.3,154.07750000000001 L192.6225,155.4 L191.3,156.7225 L189.97750000000002,155.4 Z" fill="#f2c080" stroke="#e2962a" stroke-width="0.6" opacity="0.8"/><path d="M203.8,155.97750000000002 L205.1225,157.3 L203.8,158.6225 L202.47750000000002,157.3 Z" fill="#f2c080" stroke="#e2962a" stroke-width="0.6" opacity="0.8"/><path d="M216.3,156.97750000000002 L217.6225,158.3 L216.3,159.6225 L214.97750000000002,158.3 Z" fill="#f2c080" stroke="#e2962a" stroke-width="0.6" opacity="0.8"/><path d="M228.8,158.8775 L230.1225,160.2 L228.8,161.52249999999998 L227.47750000000002,160.2 Z" fill="#f2c080" stroke="#e2962a" stroke-width="0.6" opacity="0.8"/><path d="M241.3,162.6775 L242.6225,164 L241.3,165.3225 L239.97750000000002,164 Z" fill="#f2c080" stroke="#e2962a" stroke-width="0.6" opacity="0.8"/>
<polyline points="178.8,164.4 191.3,158.3 203.8,159.2 216.3,161.2 228.8,162.1 241.3,167" fill="none" stroke="#eca84b" stroke-width="0.6" opacity="0.8"/>
<path d="M241.3,164 L241.3,170 M240.3,164 L242.3,164 M240.3,170 L242.3,170" stroke="#eca84b" stroke-width="0.5" opacity="0.8"/>
<circle cx="178.8" cy="164.4" r="1.035" fill="#f2c080" stroke="#e2962a" stroke-width="0.6" opacity="0.8"/><circle cx="191.3" cy="158.3" r="1.035" fill="#f2c080" stroke="#e2962a" stroke-width="0.6" opacity="0.8"/><circle cx="203.8" cy="159.2" r="1.035" fill="#f2c080" stroke="#e2962a" stroke-width="0.6" opacity="0.8"/><circle cx="216.3" cy="161.2" r="1.035" fill="#f2c080" stroke="#e2962a" stroke-width="0.6" opacity="0.8"/><circle cx="228.8" cy="162.1" r="1.035" fill="#f2c080" stroke="#e2962a" stroke-width="0.6" opacity="0.8"/><circle cx="241.3" cy="167" r="1.035" fill="#f2c080" stroke="#e2962a" stroke-width="0.6" opacity="0.8"/>
<polyline points="178.8,168.8 191.3,163 203.8,161.2 216.3,163 228.8,164 241.3,168.8" fill="none" stroke="#eca84b" stroke-width="0.6" opacity="0.8"/>
<path d="M178.8,167.53500000000003 L180.00750000000002,169.72 L177.5925,169.72 Z" fill="#f2c080" stroke="#e2962a" stroke-width="0.6" opacity="0.8"/><path d="M191.3,161.735 L192.50750000000002,163.92 L190.0925,163.92 Z" fill="#f2c080" stroke="#e2962a" stroke-width="0.6" opacity="0.8"/><path d="M203.8,159.935 L205.00750000000002,162.11999999999998 L202.5925,162.11999999999998 Z" fill="#f2c080" stroke="#e2962a" stroke-width="0.6" opacity="0.8"/><path d="M216.3,161.735 L217.50750000000002,163.92 L215.0925,163.92 Z" fill="#f2c080" stroke="#e2962a" stroke-width="0.6" opacity="0.8"/><path d="M228.8,162.735 L230.00750000000002,164.92 L227.5925,164.92 Z" fill="#f2c080" stroke="#e2962a" stroke-width="0.6" opacity="0.8"/><path d="M241.3,167.53500000000003 L242.50750000000002,169.72 L240.0925,169.72 Z" fill="#f2c080" stroke="#e2962a" stroke-width="0.6" opacity="0.8"/>
<polyline points="178.8,170.8 191.3,164.6 203.8,164 216.3,164 228.8,166 241.3,170.8" fill="none" stroke="#eca84b" stroke-width="0.6" opacity="0.8"/>
<path d="M178.8,172.065 L180.00750000000002,169.88000000000002 L177.5925,169.88000000000002 Z" fill="#f2c080" stroke="#e2962a" stroke-width="0.6" opacity="0.8"/><path d="M191.3,165.86499999999998 L192.50750000000002,163.68 L190.0925,163.68 Z" fill="#f2c080" stroke="#e2962a" stroke-width="0.6" opacity="0.8"/><path d="M203.8,165.265 L205.00750000000002,163.08 L202.5925,163.08 Z" fill="#f2c080" stroke="#e2962a" stroke-width="0.6" opacity="0.8"/><path d="M216.3,165.265 L217.50750000000002,163.08 L215.0925,163.08 Z" fill="#f2c080" stroke="#e2962a" stroke-width="0.6" opacity="0.8"/><path d="M228.8,167.265 L230.00750000000002,165.08 L227.5925,165.08 Z" fill="#f2c080" stroke="#e2962a" stroke-width="0.6" opacity="0.8"/><path d="M241.3,172.065 L242.50750000000002,169.88000000000002 L240.0925,169.88000000000002 Z" fill="#f2c080" stroke="#e2962a" stroke-width="0.6" opacity="0.8"/>
<polyline points="178.8,172.7 191.3,166 203.8,167 216.3,168.8 228.8,173.7 241.3,174.6" fill="none" stroke="#eca84b" stroke-width="0.6" opacity="0.8"/>
<path d="M216.3,165.8 L216.3,171.8 M215.3,165.8 L217.3,165.8 M215.3,171.8 L217.3,171.8" stroke="#eca84b" stroke-width="0.5" opacity="0.8"/>
<path d="M178.8,171.3775 L180.1225,172.7 L178.8,174.02249999999998 L177.47750000000002,172.7 Z" fill="#f2c080" stroke="#e2962a" stroke-width="0.6" opacity="0.8"/><path d="M191.3,164.6775 L192.6225,166 L191.3,167.3225 L189.97750000000002,166 Z" fill="#f2c080" stroke="#e2962a" stroke-width="0.6" opacity="0.8"/><path d="M203.8,165.6775 L205.1225,167 L203.8,168.3225 L202.47750000000002,167 Z" fill="#f2c080" stroke="#e2962a" stroke-width="0.6" opacity="0.8"/><path d="M216.3,167.47750000000002 L217.6225,168.8 L216.3,170.1225 L214.97750000000002,168.8 Z" fill="#f2c080" stroke="#e2962a" stroke-width="0.6" opacity="0.8"/><path d="M228.8,172.3775 L230.1225,173.7 L228.8,175.02249999999998 L227.47750000000002,173.7 Z" fill="#f2c080" stroke="#e2962a" stroke-width="0.6" opacity="0.8"/><path d="M241.3,173.2775 L242.6225,174.6 L241.3,175.92249999999999 L239.97750000000002,174.6 Z" fill="#f2c080" stroke="#e2962a" stroke-width="0.6" opacity="0.8"/>
<polyline points="178.8,175.6 191.3,173.7 203.8,169.8 216.3,170.8 228.8,164 241.3,176.5" fill="none" stroke="#eca84b" stroke-width="0.6" opacity="0.8"/>
<circle cx="178.8" cy="175.6" r="1.035" fill="#f2c080" stroke="#e2962a" stroke-width="0.6" opacity="0.8"/><circle cx="191.3" cy="173.7" r="1.035" fill="#f2c080" stroke="#e2962a" stroke-width="0.6" opacity="0.8"/><circle cx="203.8" cy="169.8" r="1.035" fill="#f2c080" stroke="#e2962a" stroke-width="0.6" opacity="0.8"/><circle cx="216.3" cy="170.8" r="1.035" fill="#f2c080" stroke="#e2962a" stroke-width="0.6" opacity="0.8"/><circle cx="228.8" cy="164" r="1.035" fill="#f2c080" stroke="#e2962a" stroke-width="0.6" opacity="0.8"/><circle cx="241.3" cy="176.5" r="1.035" fill="#f2c080" stroke="#e2962a" stroke-width="0.6" opacity="0.8"/>
<polyline points="178.8,181 191.3,164.6 203.8,174.2 216.3,182.3 228.8,178.5 241.3,185.2" fill="none" stroke="#eca84b" stroke-width="0.6" opacity="0.8"/>
<path d="M241.3,181.7 L241.3,188.7 M240.3,181.7 L242.3,181.7 M240.3,188.7 L242.3,188.7" stroke="#eca84b" stroke-width="0.5" opacity="0.8"/>
<path d="M178.8,179.6775 L180.1225,181 L178.8,182.3225 L177.47750000000002,181 Z" fill="#f2c080" stroke="#e2962a" stroke-width="0.6" opacity="0.8"/><path d="M191.3,163.2775 L192.6225,164.6 L191.3,165.92249999999999 L189.97750000000002,164.6 Z" fill="#f2c080" stroke="#e2962a" stroke-width="0.6" opacity="0.8"/><path d="M203.8,172.8775 L205.1225,174.2 L203.8,175.52249999999998 L202.47750000000002,174.2 Z" fill="#f2c080" stroke="#e2962a" stroke-width="0.6" opacity="0.8"/><path d="M216.3,180.97750000000002 L217.6225,182.3 L216.3,183.6225 L214.97750000000002,182.3 Z" fill="#f2c080" stroke="#e2962a" stroke-width="0.6" opacity="0.8"/><path d="M228.8,177.1775 L230.1225,178.5 L228.8,179.8225 L227.47750000000002,178.5 Z" fill="#f2c080" stroke="#e2962a" stroke-width="0.6" opacity="0.8"/><path d="M241.3,183.8775 L242.6225,185.2 L241.3,186.52249999999998 L239.97750000000002,185.2 Z" fill="#f2c080" stroke="#e2962a" stroke-width="0.6" opacity="0.8"/>
<polyline points="178.8,190 191.3,166 203.8,157.3 216.3,161 228.8,162 241.3,168" fill="none" stroke="#eca84b" stroke-width="0.6" opacity="0.8"/>
<circle cx="178.8" cy="190" r="1.035" fill="#f2c080" stroke="#e2962a" stroke-width="0.6" opacity="0.8"/><circle cx="191.3" cy="166" r="1.035" fill="#f2c080" stroke="#e2962a" stroke-width="0.6" opacity="0.8"/><circle cx="203.8" cy="157.3" r="1.035" fill="#f2c080" stroke="#e2962a" stroke-width="0.6" opacity="0.8"/><circle cx="216.3" cy="161" r="1.035" fill="#f2c080" stroke="#e2962a" stroke-width="0.6" opacity="0.8"/><circle cx="228.8" cy="162" r="1.035" fill="#f2c080" stroke="#e2962a" stroke-width="0.6" opacity="0.8"/><circle cx="241.3" cy="168" r="1.035" fill="#f2c080" stroke="#e2962a" stroke-width="0.6" opacity="0.8"/>
<polyline points="178.8,172 191.3,160 203.8,164 216.3,168.8 228.8,166 241.3,170" fill="none" stroke="#eca84b" stroke-width="0.6" opacity="0.8"/>
<path d="M178.8,170.6775 L180.1225,172 L178.8,173.3225 L177.47750000000002,172 Z" fill="#f2c080" stroke="#e2962a" stroke-width="0.6" opacity="0.8"/><path d="M191.3,158.6775 L192.6225,160 L191.3,161.3225 L189.97750000000002,160 Z" fill="#f2c080" stroke="#e2962a" stroke-width="0.6" opacity="0.8"/><path d="M203.8,162.6775 L205.1225,164 L203.8,165.3225 L202.47750000000002,164 Z" fill="#f2c080" stroke="#e2962a" stroke-width="0.6" opacity="0.8"/><path d="M216.3,167.47750000000002 L217.6225,168.8 L216.3,170.1225 L214.97750000000002,168.8 Z" fill="#f2c080" stroke="#e2962a" stroke-width="0.6" opacity="0.8"/><path d="M228.8,164.6775 L230.1225,166 L228.8,167.3225 L227.47750000000002,166 Z" fill="#f2c080" stroke="#e2962a" stroke-width="0.6" opacity="0.8"/><path d="M241.3,168.6775 L242.6225,170 L241.3,171.3225 L239.97750000000002,170 Z" fill="#f2c080" stroke="#e2962a" stroke-width="0.6" opacity="0.8"/>
<polyline points="300.2,171.7 312.7,184.6 325.2,186.2 337.7,175 350.2,179.8 362.7,175" fill="none" stroke="#eca84b" stroke-width="0.6" opacity="0.8"/>
<path d="M300.2,169.2 L300.2,174.2 M299.2,169.2 L301.2,169.2 M299.2,174.2 L301.2,174.2" stroke="#eca84b" stroke-width="0.5" opacity="0.8"/>
<path d="M362.7,172 L362.7,178 M361.7,172 L363.7,172 M361.7,178 L363.7,178" stroke="#eca84b" stroke-width="0.5" opacity="0.8"/>
<path d="M300.2,170.3775 L301.5225,171.7 L300.2,173.02249999999998 L298.8775,171.7 Z" fill="#f2c080" stroke="#e2962a" stroke-width="0.6" opacity="0.8"/><path d="M312.7,183.2775 L314.0225,184.6 L312.7,185.92249999999999 L311.3775,184.6 Z" fill="#f2c080" stroke="#e2962a" stroke-width="0.6" opacity="0.8"/><path d="M325.2,184.8775 L326.5225,186.2 L325.2,187.52249999999998 L323.8775,186.2 Z" fill="#f2c080" stroke="#e2962a" stroke-width="0.6" opacity="0.8"/><path d="M337.7,173.6775 L339.0225,175 L337.7,176.3225 L336.3775,175 Z" fill="#f2c080" stroke="#e2962a" stroke-width="0.6" opacity="0.8"/><path d="M350.2,178.47750000000002 L351.5225,179.8 L350.2,181.1225 L348.8775,179.8 Z" fill="#f2c080" stroke="#e2962a" stroke-width="0.6" opacity="0.8"/><path d="M362.7,173.6775 L364.0225,175 L362.7,176.3225 L361.3775,175 Z" fill="#f2c080" stroke="#e2962a" stroke-width="0.6" opacity="0.8"/>
<polyline points="300.2,181.3 312.7,196.7 325.2,183.3 337.7,190 350.2,184.2 362.7,181.3" fill="none" stroke="#eca84b" stroke-width="0.6" opacity="0.8"/>
<path d="M325.2,180.3 L325.2,186.3 M324.2,180.3 L326.2,180.3 M324.2,186.3 L326.2,186.3" stroke="#eca84b" stroke-width="0.5" opacity="0.8"/>
<circle cx="300.2" cy="181.3" r="1.035" fill="#f2c080" stroke="#e2962a" stroke-width="0.6" opacity="0.8"/><circle cx="312.7" cy="196.7" r="1.035" fill="#f2c080" stroke="#e2962a" stroke-width="0.6" opacity="0.8"/><circle cx="325.2" cy="183.3" r="1.035" fill="#f2c080" stroke="#e2962a" stroke-width="0.6" opacity="0.8"/><circle cx="337.7" cy="190" r="1.035" fill="#f2c080" stroke="#e2962a" stroke-width="0.6" opacity="0.8"/><circle cx="350.2" cy="184.2" r="1.035" fill="#f2c080" stroke="#e2962a" stroke-width="0.6" opacity="0.8"/><circle cx="362.7" cy="181.3" r="1.035" fill="#f2c080" stroke="#e2962a" stroke-width="0.6" opacity="0.8"/>
<polyline points="300.2,183.3 312.7,191 325.2,193.8 337.7,181.3 350.2,190 362.7,184.2" fill="none" stroke="#eca84b" stroke-width="0.6" opacity="0.8"/>
<path d="M337.7,178.3 L337.7,184.3 M336.7,178.3 L338.7,178.3 M336.7,184.3 L338.7,184.3" stroke="#eca84b" stroke-width="0.5" opacity="0.8"/>
<path d="M300.2,182.03500000000003 L301.40749999999997,184.22 L298.9925,184.22 Z" fill="#f2c080" stroke="#e2962a" stroke-width="0.6" opacity="0.8"/><path d="M312.7,189.735 L313.90749999999997,191.92 L311.4925,191.92 Z" fill="#f2c080" stroke="#e2962a" stroke-width="0.6" opacity="0.8"/><path d="M325.2,192.53500000000003 L326.40749999999997,194.72 L323.9925,194.72 Z" fill="#f2c080" stroke="#e2962a" stroke-width="0.6" opacity="0.8"/><path d="M337.7,180.03500000000003 L338.90749999999997,182.22 L336.4925,182.22 Z" fill="#f2c080" stroke="#e2962a" stroke-width="0.6" opacity="0.8"/><path d="M350.2,188.735 L351.40749999999997,190.92 L348.9925,190.92 Z" fill="#f2c080" stroke="#e2962a" stroke-width="0.6" opacity="0.8"/><path d="M362.7,182.935 L363.90749999999997,185.11999999999998 L361.4925,185.11999999999998 Z" fill="#f2c080" stroke="#e2962a" stroke-width="0.6" opacity="0.8"/>
<polyline points="300.2,188 312.7,193.8 325.2,195.8 337.7,186.2 350.2,192.9 362.7,189" fill="none" stroke="#eca84b" stroke-width="0.6" opacity="0.8"/>
<path d="M300.2,189.265 L301.40749999999997,187.08 L298.9925,187.08 Z" fill="#f2c080" stroke="#e2962a" stroke-width="0.6" opacity="0.8"/><path d="M312.7,195.065 L313.90749999999997,192.88000000000002 L311.4925,192.88000000000002 Z" fill="#f2c080" stroke="#e2962a" stroke-width="0.6" opacity="0.8"/><path d="M325.2,197.065 L326.40749999999997,194.88000000000002 L323.9925,194.88000000000002 Z" fill="#f2c080" stroke="#e2962a" stroke-width="0.6" opacity="0.8"/><path d="M337.7,187.46499999999997 L338.90749999999997,185.28 L336.4925,185.28 Z" fill="#f2c080" stroke="#e2962a" stroke-width="0.6" opacity="0.8"/><path d="M350.2,194.165 L351.40749999999997,191.98000000000002 L348.9925,191.98000000000002 Z" fill="#f2c080" stroke="#e2962a" stroke-width="0.6" opacity="0.8"/><path d="M362.7,190.265 L363.90749999999997,188.08 L361.4925,188.08 Z" fill="#f2c080" stroke="#e2962a" stroke-width="0.6" opacity="0.8"/>
<polyline points="300.2,190 312.7,200.6 325.2,197.7 337.7,193.8 350.2,195.8 362.7,191" fill="none" stroke="#eca84b" stroke-width="0.6" opacity="0.8"/>
<path d="M300.2,188.6775 L301.5225,190 L300.2,191.3225 L298.8775,190 Z" fill="#f2c080" stroke="#e2962a" stroke-width="0.6" opacity="0.8"/><path d="M312.7,199.2775 L314.0225,200.6 L312.7,201.92249999999999 L311.3775,200.6 Z" fill="#f2c080" stroke="#e2962a" stroke-width="0.6" opacity="0.8"/><path d="M325.2,196.3775 L326.5225,197.7 L325.2,199.02249999999998 L323.8775,197.7 Z" fill="#f2c080" stroke="#e2962a" stroke-width="0.6" opacity="0.8"/><path d="M337.7,192.47750000000002 L339.0225,193.8 L337.7,195.1225 L336.3775,193.8 Z" fill="#f2c080" stroke="#e2962a" stroke-width="0.6" opacity="0.8"/><path d="M350.2,194.47750000000002 L351.5225,195.8 L350.2,197.1225 L348.8775,195.8 Z" fill="#f2c080" stroke="#e2962a" stroke-width="0.6" opacity="0.8"/><path d="M362.7,189.6775 L364.0225,191 L362.7,192.3225 L361.3775,191 Z" fill="#f2c080" stroke="#e2962a" stroke-width="0.6" opacity="0.8"/>
<polyline points="300.2,192 312.7,201.5 325.2,199.6 337.7,195.8 350.2,197.7 362.7,192.9" fill="none" stroke="#eca84b" stroke-width="0.6" opacity="0.8"/>
<circle cx="300.2" cy="192" r="1.035" fill="#f2c080" stroke="#e2962a" stroke-width="0.6" opacity="0.8"/><circle cx="312.7" cy="201.5" r="1.035" fill="#f2c080" stroke="#e2962a" stroke-width="0.6" opacity="0.8"/><circle cx="325.2" cy="199.6" r="1.035" fill="#f2c080" stroke="#e2962a" stroke-width="0.6" opacity="0.8"/><circle cx="337.7" cy="195.8" r="1.035" fill="#f2c080" stroke="#e2962a" stroke-width="0.6" opacity="0.8"/><circle cx="350.2" cy="197.7" r="1.035" fill="#f2c080" stroke="#e2962a" stroke-width="0.6" opacity="0.8"/><circle cx="362.7" cy="192.9" r="1.035" fill="#f2c080" stroke="#e2962a" stroke-width="0.6" opacity="0.8"/>
<polyline points="300.2,193.8 312.7,198 325.2,190 337.7,197.7 350.2,188 362.7,194.8" fill="none" stroke="#eca84b" stroke-width="0.6" opacity="0.8"/>
<path d="M300.2,192.47750000000002 L301.5225,193.8 L300.2,195.1225 L298.8775,193.8 Z" fill="#f2c080" stroke="#e2962a" stroke-width="0.6" opacity="0.8"/><path d="M312.7,196.6775 L314.0225,198 L312.7,199.3225 L311.3775,198 Z" fill="#f2c080" stroke="#e2962a" stroke-width="0.6" opacity="0.8"/><path d="M325.2,188.6775 L326.5225,190 L325.2,191.3225 L323.8775,190 Z" fill="#f2c080" stroke="#e2962a" stroke-width="0.6" opacity="0.8"/><path d="M337.7,196.3775 L339.0225,197.7 L337.7,199.02249999999998 L336.3775,197.7 Z" fill="#f2c080" stroke="#e2962a" stroke-width="0.6" opacity="0.8"/><path d="M350.2,186.6775 L351.5225,188 L350.2,189.3225 L348.8775,188 Z" fill="#f2c080" stroke="#e2962a" stroke-width="0.6" opacity="0.8"/><path d="M362.7,193.47750000000002 L364.0225,194.8 L362.7,196.1225 L361.3775,194.8 Z" fill="#f2c080" stroke="#e2962a" stroke-width="0.6" opacity="0.8"/>
<polyline points="300.2,199.6 312.7,195 325.2,196 337.7,192 350.2,193 362.7,190" fill="none" stroke="#eca84b" stroke-width="0.6" opacity="0.8"/>
<circle cx="300.2" cy="199.6" r="1.035" fill="#f2c080" stroke="#e2962a" stroke-width="0.6" opacity="0.8"/><circle cx="312.7" cy="195" r="1.035" fill="#f2c080" stroke="#e2962a" stroke-width="0.6" opacity="0.8"/><circle cx="325.2" cy="196" r="1.035" fill="#f2c080" stroke="#e2962a" stroke-width="0.6" opacity="0.8"/><circle cx="337.7" cy="192" r="1.035" fill="#f2c080" stroke="#e2962a" stroke-width="0.6" opacity="0.8"/><circle cx="350.2" cy="193" r="1.035" fill="#f2c080" stroke="#e2962a" stroke-width="0.6" opacity="0.8"/><circle cx="362.7" cy="190" r="1.035" fill="#f2c080" stroke="#e2962a" stroke-width="0.6" opacity="0.8"/>
<polyline points="300.2,186 312.7,192 325.2,192 337.7,188 350.2,186 362.7,187" fill="none" stroke="#eca84b" stroke-width="0.6" opacity="0.8"/>
<path d="M300.2,184.6775 L301.5225,186 L300.2,187.3225 L298.8775,186 Z" fill="#f2c080" stroke="#e2962a" stroke-width="0.6" opacity="0.8"/><path d="M312.7,190.6775 L314.0225,192 L312.7,193.3225 L311.3775,192 Z" fill="#f2c080" stroke="#e2962a" stroke-width="0.6" opacity="0.8"/><path d="M325.2,190.6775 L326.5225,192 L325.2,193.3225 L323.8775,192 Z" fill="#f2c080" stroke="#e2962a" stroke-width="0.6" opacity="0.8"/><path d="M337.7,186.6775 L339.0225,188 L337.7,189.3225 L336.3775,188 Z" fill="#f2c080" stroke="#e2962a" stroke-width="0.6" opacity="0.8"/><path d="M350.2,184.6775 L351.5225,186 L350.2,187.3225 L348.8775,186 Z" fill="#f2c080" stroke="#e2962a" stroke-width="0.6" opacity="0.8"/><path d="M362.7,185.6775 L364.0225,187 L362.7,188.3225 L361.3775,187 Z" fill="#f2c080" stroke="#e2962a" stroke-width="0.6" opacity="0.8"/>
<polyline points="417.3,170 429.8,193.75 442.3,200.5 454.8,200.5 467.3,200 479.6,190" fill="none" stroke="#eca84b" stroke-width="0.6" opacity="0.8"/>
<path d="M417.3,166.5 L417.3,173.5 M416.3,166.5 L418.3,166.5 M416.3,173.5 L418.3,173.5" stroke="#eca84b" stroke-width="0.5" opacity="0.8"/>
<path d="M417.3,168.6775 L418.6225,170 L417.3,171.3225 L415.9775,170 Z" fill="#f2c080" stroke="#e2962a" stroke-width="0.6" opacity="0.8"/><path d="M429.8,192.4275 L431.1225,193.75 L429.8,195.0725 L428.4775,193.75 Z" fill="#f2c080" stroke="#e2962a" stroke-width="0.6" opacity="0.8"/><path d="M442.3,199.1775 L443.6225,200.5 L442.3,201.8225 L440.9775,200.5 Z" fill="#f2c080" stroke="#e2962a" stroke-width="0.6" opacity="0.8"/><path d="M454.8,199.1775 L456.1225,200.5 L454.8,201.8225 L453.4775,200.5 Z" fill="#f2c080" stroke="#e2962a" stroke-width="0.6" opacity="0.8"/><path d="M467.3,198.6775 L468.6225,200 L467.3,201.3225 L465.9775,200 Z" fill="#f2c080" stroke="#e2962a" stroke-width="0.6" opacity="0.8"/><path d="M479.6,188.6775 L480.9225,190 L479.6,191.3225 L478.27750000000003,190 Z" fill="#f2c080" stroke="#e2962a" stroke-width="0.6" opacity="0.8"/>
<polyline points="417.3,177.5 429.8,195.6 442.3,201 454.8,200.8 467.3,200.5 479.6,192" fill="none" stroke="#eca84b" stroke-width="0.6" opacity="0.8"/>
<circle cx="417.3" cy="177.5" r="1.035" fill="#f2c080" stroke="#e2962a" stroke-width="0.6" opacity="0.8"/><circle cx="429.8" cy="195.6" r="1.035" fill="#f2c080" stroke="#e2962a" stroke-width="0.6" opacity="0.8"/><circle cx="442.3" cy="201" r="1.035" fill="#f2c080" stroke="#e2962a" stroke-width="0.6" opacity="0.8"/><circle cx="454.8" cy="200.8" r="1.035" fill="#f2c080" stroke="#e2962a" stroke-width="0.6" opacity="0.8"/><circle cx="467.3" cy="200.5" r="1.035" fill="#f2c080" stroke="#e2962a" stroke-width="0.6" opacity="0.8"/><circle cx="479.6" cy="192" r="1.035" fill="#f2c080" stroke="#e2962a" stroke-width="0.6" opacity="0.8"/>
<polyline points="417.3,181.25 429.8,182.5 442.3,200 454.8,200.3 479.6,180.8" fill="none" stroke="#eca84b" stroke-width="0.6" opacity="0.8"/>
<path d="M429.8,176.5 L429.8,188.5 M428.8,176.5 L430.8,176.5 M428.8,188.5 L430.8,188.5" stroke="#eca84b" stroke-width="0.5" opacity="0.8"/>
<path d="M479.6,175.8 L479.6,185.8 M478.6,175.8 L480.6,175.8 M478.6,185.8 L480.6,185.8" stroke="#eca84b" stroke-width="0.5" opacity="0.8"/>
<path d="M417.3,179.985 L418.5075,182.17 L416.09250000000003,182.17 Z" fill="#f2c080" stroke="#e2962a" stroke-width="0.6" opacity="0.8"/><path d="M429.8,181.235 L431.0075,183.42 L428.59250000000003,183.42 Z" fill="#f2c080" stroke="#e2962a" stroke-width="0.6" opacity="0.8"/><path d="M442.3,198.735 L443.5075,200.92 L441.09250000000003,200.92 Z" fill="#f2c080" stroke="#e2962a" stroke-width="0.6" opacity="0.8"/><path d="M454.8,199.03500000000003 L456.0075,201.22 L453.59250000000003,201.22 Z" fill="#f2c080" stroke="#e2962a" stroke-width="0.6" opacity="0.8"/><path d="M479.6,179.53500000000003 L480.8075,181.72 L478.39250000000004,181.72 Z" fill="#f2c080" stroke="#e2962a" stroke-width="0.6" opacity="0.8"/>
<polyline points="417.3,184.4 429.8,192.5 442.3,200.5 454.8,200 467.3,200.5 479.6,194.8" fill="none" stroke="#eca84b" stroke-width="0.6" opacity="0.8"/>
<path d="M417.3,185.665 L418.5075,183.48000000000002 L416.09250000000003,183.48000000000002 Z" fill="#f2c080" stroke="#e2962a" stroke-width="0.6" opacity="0.8"/><path d="M429.8,193.765 L431.0075,191.58 L428.59250000000003,191.58 Z" fill="#f2c080" stroke="#e2962a" stroke-width="0.6" opacity="0.8"/><path d="M442.3,201.765 L443.5075,199.58 L441.09250000000003,199.58 Z" fill="#f2c080" stroke="#e2962a" stroke-width="0.6" opacity="0.8"/><path d="M454.8,201.265 L456.0075,199.08 L453.59250000000003,199.08 Z" fill="#f2c080" stroke="#e2962a" stroke-width="0.6" opacity="0.8"/><path d="M467.3,201.765 L468.5075,199.58 L466.09250000000003,199.58 Z" fill="#f2c080" stroke="#e2962a" stroke-width="0.6" opacity="0.8"/><path d="M479.6,196.065 L480.8075,193.88000000000002 L478.39250000000004,193.88000000000002 Z" fill="#f2c080" stroke="#e2962a" stroke-width="0.6" opacity="0.8"/>
<polyline points="417.3,189.4 429.8,197.5 442.3,201 454.8,201 467.3,201 479.6,199.6" fill="none" stroke="#eca84b" stroke-width="0.6" opacity="0.8"/>
<path d="M417.3,188.07750000000001 L418.6225,189.4 L417.3,190.7225 L415.9775,189.4 Z" fill="#f2c080" stroke="#e2962a" stroke-width="0.6" opacity="0.8"/><path d="M429.8,196.1775 L431.1225,197.5 L429.8,198.8225 L428.4775,197.5 Z" fill="#f2c080" stroke="#e2962a" stroke-width="0.6" opacity="0.8"/><path d="M442.3,199.6775 L443.6225,201 L442.3,202.3225 L440.9775,201 Z" fill="#f2c080" stroke="#e2962a" stroke-width="0.6" opacity="0.8"/><path d="M454.8,199.6775 L456.1225,201 L454.8,202.3225 L453.4775,201 Z" fill="#f2c080" stroke="#e2962a" stroke-width="0.6" opacity="0.8"/><path d="M467.3,199.6775 L468.6225,201 L467.3,202.3225 L465.9775,201 Z" fill="#f2c080" stroke="#e2962a" stroke-width="0.6" opacity="0.8"/><path d="M479.6,198.2775 L480.9225,199.6 L479.6,200.92249999999999 L478.27750000000003,199.6 Z" fill="#f2c080" stroke="#e2962a" stroke-width="0.6" opacity="0.8"/>
<polyline points="417.3,193.75 429.8,201.25 442.3,201.2 454.8,200.5 467.3,200.8 479.6,200.6" fill="none" stroke="#eca84b" stroke-width="0.6" opacity="0.8"/>
<circle cx="417.3" cy="193.75" r="1.035" fill="#f2c080" stroke="#e2962a" stroke-width="0.6" opacity="0.8"/><circle cx="429.8" cy="201.25" r="1.035" fill="#f2c080" stroke="#e2962a" stroke-width="0.6" opacity="0.8"/><circle cx="442.3" cy="201.2" r="1.035" fill="#f2c080" stroke="#e2962a" stroke-width="0.6" opacity="0.8"/><circle cx="454.8" cy="200.5" r="1.035" fill="#f2c080" stroke="#e2962a" stroke-width="0.6" opacity="0.8"/><circle cx="467.3" cy="200.8" r="1.035" fill="#f2c080" stroke="#e2962a" stroke-width="0.6" opacity="0.8"/><circle cx="479.6" cy="200.6" r="1.035" fill="#f2c080" stroke="#e2962a" stroke-width="0.6" opacity="0.8"/>
<polyline points="417.3,195 429.8,199 442.3,200.5 454.8,201 467.3,200 479.6,199" fill="none" stroke="#eca84b" stroke-width="0.6" opacity="0.8"/>
<path d="M417.3,193.6775 L418.6225,195 L417.3,196.3225 L415.9775,195 Z" fill="#f2c080" stroke="#e2962a" stroke-width="0.6" opacity="0.8"/><path d="M429.8,197.6775 L431.1225,199 L429.8,200.3225 L428.4775,199 Z" fill="#f2c080" stroke="#e2962a" stroke-width="0.6" opacity="0.8"/><path d="M442.3,199.1775 L443.6225,200.5 L442.3,201.8225 L440.9775,200.5 Z" fill="#f2c080" stroke="#e2962a" stroke-width="0.6" opacity="0.8"/><path d="M454.8,199.6775 L456.1225,201 L454.8,202.3225 L453.4775,201 Z" fill="#f2c080" stroke="#e2962a" stroke-width="0.6" opacity="0.8"/><path d="M467.3,198.6775 L468.6225,200 L467.3,201.3225 L465.9775,200 Z" fill="#f2c080" stroke="#e2962a" stroke-width="0.6" opacity="0.8"/><path d="M479.6,197.6775 L480.9225,199 L479.6,200.3225 L478.27750000000003,199 Z" fill="#f2c080" stroke="#e2962a" stroke-width="0.6" opacity="0.8"/>
<polyline points="417.3,198.75 429.8,200 442.3,201 454.8,200.7 467.3,201 479.6,200" fill="none" stroke="#eca84b" stroke-width="0.6" opacity="0.8"/>
<circle cx="417.3" cy="198.75" r="1.035" fill="#f2c080" stroke="#e2962a" stroke-width="0.6" opacity="0.8"/><circle cx="429.8" cy="200" r="1.035" fill="#f2c080" stroke="#e2962a" stroke-width="0.6" opacity="0.8"/><circle cx="442.3" cy="201" r="1.035" fill="#f2c080" stroke="#e2962a" stroke-width="0.6" opacity="0.8"/><circle cx="454.8" cy="200.7" r="1.035" fill="#f2c080" stroke="#e2962a" stroke-width="0.6" opacity="0.8"/><circle cx="467.3" cy="201" r="1.035" fill="#f2c080" stroke="#e2962a" stroke-width="0.6" opacity="0.8"/><circle cx="479.6" cy="200" r="1.035" fill="#f2c080" stroke="#e2962a" stroke-width="0.6" opacity="0.8"/>
<polyline points="417.3,200 429.8,198 442.3,200.2 454.8,200.2 467.3,200.3 479.6,198" fill="none" stroke="#eca84b" stroke-width="0.6" opacity="0.8"/>
<path d="M417.3,198.6775 L418.6225,200 L417.3,201.3225 L415.9775,200 Z" fill="#f2c080" stroke="#e2962a" stroke-width="0.6" opacity="0.8"/><path d="M429.8,196.6775 L431.1225,198 L429.8,199.3225 L428.4775,198 Z" fill="#f2c080" stroke="#e2962a" stroke-width="0.6" opacity="0.8"/><path d="M442.3,198.8775 L443.6225,200.2 L442.3,201.52249999999998 L440.9775,200.2 Z" fill="#f2c080" stroke="#e2962a" stroke-width="0.6" opacity="0.8"/><path d="M454.8,198.8775 L456.1225,200.2 L454.8,201.52249999999998 L453.4775,200.2 Z" fill="#f2c080" stroke="#e2962a" stroke-width="0.6" opacity="0.8"/><path d="M467.3,198.97750000000002 L468.6225,200.3 L467.3,201.6225 L465.9775,200.3 Z" fill="#f2c080" stroke="#e2962a" stroke-width="0.6" opacity="0.8"/><path d="M479.6,196.6775 L480.9225,198 L479.6,199.3225 L478.27750000000003,198 Z" fill="#f2c080" stroke="#e2962a" stroke-width="0.6" opacity="0.8"/>
<polyline points="62,340 72,336 87,334" fill="none" stroke="#e8a037" stroke-width="0.75" opacity="0.95"/>
<circle cx="62" cy="340" r="1.7" fill="#fff" stroke="#e39a2c" stroke-width="0.6" opacity="0.95"/><circle cx="72" cy="336" r="1.7" fill="#fff" stroke="#e39a2c" stroke-width="0.6" opacity="0.95"/><circle cx="87" cy="334" r="1.7" fill="#fff" stroke="#e39a2c" stroke-width="0.6" opacity="0.95"/>
<polyline points="61,339 71,344 87.5,326" fill="none" stroke="#e8a037" stroke-width="0.75" opacity="0.95"/>
<path d="M87.5,322 L87.5,330 M86.0,322 L89.0,322 M86.0,330 L89.0,330" stroke="#e8a037" stroke-width="0.8" opacity="0.95"/>
<rect x="59.3" y="337.3" width="3.4" height="3.4" fill="#fff" stroke="#e39a2c" stroke-width="0.6" opacity="0.95"/><rect x="69.3" y="342.3" width="3.4" height="3.4" fill="#fff" stroke="#e39a2c" stroke-width="0.6" opacity="0.95"/><rect x="85.8" y="324.3" width="3.4" height="3.4" fill="#fff" stroke="#e39a2c" stroke-width="0.6" opacity="0.95"/>
<polyline points="62,341 73,338 84,344" fill="none" stroke="#e8a037" stroke-width="0.75" opacity="0.95"/>
<path d="M62,339.13 L63.785,342.36 L60.215,342.36 Z" fill="#fff" stroke="#e39a2c" stroke-width="0.6" opacity="0.95"/><path d="M73,336.13 L74.785,339.36 L71.215,339.36 Z" fill="#fff" stroke="#e39a2c" stroke-width="0.6" opacity="0.95"/><path d="M84,342.13 L85.785,345.36 L82.215,345.36 Z" fill="#fff" stroke="#e39a2c" stroke-width="0.6" opacity="0.95"/>
<polyline points="61,342 71.5,333 87.7,325.4" fill="none" stroke="#e8a037" stroke-width="0.75" opacity="0.95"/>
<path d="M61,343.87 L62.785,340.64 L59.215,340.64 Z" fill="#fff" stroke="#e39a2c" stroke-width="0.6" opacity="0.95"/><path d="M71.5,334.87 L73.285,331.64 L69.715,331.64 Z" fill="#fff" stroke="#e39a2c" stroke-width="0.6" opacity="0.95"/><path d="M87.7,327.27 L89.485,324.03999999999996 L85.915,324.03999999999996 Z" fill="#fff" stroke="#e39a2c" stroke-width="0.6" opacity="0.95"/>
<polyline points="60.8,347.7 71.9,345 82,337" fill="none" stroke="#e8a037" stroke-width="0.75" opacity="0.95"/>
<path d="M60.8,345.745 L62.754999999999995,347.7 L60.8,349.655 L58.845,347.7 Z" fill="#fff" stroke="#e39a2c" stroke-width="0.6" opacity="0.95"/><path d="M71.9,343.045 L73.855,345 L71.9,346.955 L69.94500000000001,345 Z" fill="#fff" stroke="#e39a2c" stroke-width="0.6" opacity="0.95"/><path d="M82,335.045 L83.955,337 L82,338.955 L80.045,337 Z" fill="#fff" stroke="#e39a2c" stroke-width="0.6" opacity="0.95"/>
<polyline points="65.8,344.6 76.5,335 87,343" fill="none" stroke="#e8a037" stroke-width="0.75" opacity="0.95"/>
<circle cx="65.8" cy="344.6" r="1.53" fill="#fff" stroke="#e39a2c" stroke-width="0.6" opacity="0.95"/><circle cx="76.5" cy="335" r="1.53" fill="#fff" stroke="#e39a2c" stroke-width="0.6" opacity="0.95"/><circle cx="87" cy="343" r="1.53" fill="#fff" stroke="#e39a2c" stroke-width="0.6" opacity="0.95"/>
<polyline points="61,338 71.5,333 86.9,348.5" fill="none" stroke="#e8a037" stroke-width="0.75" opacity="0.95"/>
<circle cx="61" cy="338" r="1.7" fill="#fff" stroke="#e39a2c" stroke-width="0.6" opacity="0.95"/><path d="M59.98,336.98 L62.02,339.02 M62.02,336.98 L59.98,339.02" stroke="#e39a2c" stroke-width="0.6" opacity="0.95"/><circle cx="71.5" cy="333" r="1.7" fill="#fff" stroke="#e39a2c" stroke-width="0.6" opacity="0.95"/><path d="M70.48,331.98 L72.52,334.02 M72.52,331.98 L70.48,334.02" stroke="#e39a2c" stroke-width="0.6" opacity="0.95"/><circle cx="86.9" cy="348.5" r="1.7" fill="#fff" stroke="#e39a2c" stroke-width="0.6" opacity="0.95"/><path d="M85.88000000000001,347.48 L87.92,349.52 M87.92,347.48 L85.88000000000001,349.52" stroke="#e39a2c" stroke-width="0.6" opacity="0.95"/>
<polyline points="62.3,339 72,293.2 77,322" fill="none" stroke="#e8a037" stroke-width="0.75" opacity="0.95"/>
<path d="M72,289.4 L72,297.0 M70.5,289.4 L73.5,289.4 M70.5,297.0 L73.5,297.0" stroke="#e8a037" stroke-width="0.8" opacity="0.95"/>
<path d="M77,320.5 L77,323.5 M75.5,320.5 L78.5,320.5 M75.5,323.5 L78.5,323.5" stroke="#e8a037" stroke-width="0.8" opacity="0.95"/>
<rect x="60.599999999999994" y="337.3" width="3.4" height="3.4" fill="#fff" stroke="#e39a2c" stroke-width="0.6" opacity="0.95"/><path d="M60.599999999999994,337.3 L64.0,340.7 M64.0,337.3 L60.599999999999994,340.7" stroke="#e39a2c" stroke-width="0.48" opacity="0.95"/><rect x="70.3" y="291.5" width="3.4" height="3.4" fill="#fff" stroke="#e39a2c" stroke-width="0.6" opacity="0.95"/><path d="M70.3,291.5 L73.7,294.9 M73.7,291.5 L70.3,294.9" stroke="#e39a2c" stroke-width="0.48" opacity="0.95"/><rect x="75.3" y="320.3" width="3.4" height="3.4" fill="#fff" stroke="#e39a2c" stroke-width="0.6" opacity="0.95"/><path d="M75.3,320.3 L78.7,323.7 M78.7,320.3 L75.3,323.7" stroke="#e39a2c" stroke-width="0.48" opacity="0.95"/>
<polyline points="63,342 76,330 82,338" fill="none" stroke="#e8a037" stroke-width="0.75" opacity="0.95"/>
<path d="M63,339.96 L65.04,342 L63,344.04 L60.96,342 Z" fill="#e39a2c" stroke="#e39a2c" stroke-width="0.3" opacity="0.95"/><path d="M76,327.96 L78.04,330 L76,332.04 L73.96,330 Z" fill="#e39a2c" stroke="#e39a2c" stroke-width="0.3" opacity="0.95"/><path d="M82,335.96 L84.04,338 L82,340.04 L79.96,338 Z" fill="#e39a2c" stroke="#e39a2c" stroke-width="0.3" opacity="0.95"/>
<polyline points="223.3,299.7 235.4,289.9 250.5,291.8" fill="none" stroke="#e8a037" stroke-width="0.75" opacity="0.95"/>
<path d="M250.5,287.8 L250.5,295.8 M249.0,287.8 L252.0,287.8 M249.0,295.8 L252.0,295.8" stroke="#e8a037" stroke-width="0.8" opacity="0.95"/>
<circle cx="223.3" cy="299.7" r="1.7" fill="#fff" stroke="#e39a2c" stroke-width="0.6" opacity="0.95"/><circle cx="235.4" cy="289.9" r="1.7" fill="#fff" stroke="#e39a2c" stroke-width="0.6" opacity="0.95"/><circle cx="250.5" cy="291.8" r="1.7" fill="#fff" stroke="#e39a2c" stroke-width="0.6" opacity="0.95"/>
<polyline points="224.2,277.8 235.4,273.5 249,296" fill="none" stroke="#e8a037" stroke-width="0.75" opacity="0.95"/>
<rect x="222.5" y="276.1" width="3.4" height="3.4" fill="#fff" stroke="#e39a2c" stroke-width="0.6" opacity="0.95"/><rect x="233.70000000000002" y="271.8" width="3.4" height="3.4" fill="#fff" stroke="#e39a2c" stroke-width="0.6" opacity="0.95"/><rect x="247.3" y="294.3" width="3.4" height="3.4" fill="#fff" stroke="#e39a2c" stroke-width="0.6" opacity="0.95"/>
<polyline points="228.8,315.4 237,291.8 246,298.4" fill="none" stroke="#e8a037" stroke-width="0.75" opacity="0.95"/>
<path d="M228.8,313.53 L230.585,316.76 L227.01500000000001,316.76 Z" fill="#fff" stroke="#e39a2c" stroke-width="0.6" opacity="0.95"/><path d="M237,289.93 L238.785,293.16 L235.215,293.16 Z" fill="#fff" stroke="#e39a2c" stroke-width="0.6" opacity="0.95"/><path d="M246,296.53 L247.785,299.76 L244.215,299.76 Z" fill="#fff" stroke="#e39a2c" stroke-width="0.6" opacity="0.95"/>
<polyline points="228.2,296.7 239.3,275.5 247.8,301" fill="none" stroke="#e8a037" stroke-width="0.75" opacity="0.95"/>
<path d="M228.2,298.57 L229.98499999999999,295.34 L226.415,295.34 Z" fill="#fff" stroke="#e39a2c" stroke-width="0.6" opacity="0.95"/><path d="M239.3,277.37 L241.085,274.14 L237.51500000000001,274.14 Z" fill="#fff" stroke="#e39a2c" stroke-width="0.6" opacity="0.95"/><path d="M247.8,302.87 L249.585,299.64 L246.01500000000001,299.64 Z" fill="#fff" stroke="#e39a2c" stroke-width="0.6" opacity="0.95"/>
<polyline points="223.3,303.9 233.7,288.6 245.2,321.2" fill="none" stroke="#e8a037" stroke-width="0.75" opacity="0.95"/>
<path d="M223.3,300.9 L223.3,306.9 M221.8,300.9 L224.8,300.9 M221.8,306.9 L224.8,306.9" stroke="#e8a037" stroke-width="0.8" opacity="0.95"/>
<path d="M245.2,316.2 L245.2,326.2 M243.7,316.2 L246.7,316.2 M243.7,326.2 L246.7,326.2" stroke="#e8a037" stroke-width="0.8" opacity="0.95"/>
<path d="M223.3,301.945 L225.25500000000002,303.9 L223.3,305.85499999999996 L221.345,303.9 Z" fill="#fff" stroke="#e39a2c" stroke-width="0.6" opacity="0.95"/><path d="M233.7,286.64500000000004 L235.655,288.6 L233.7,290.555 L231.74499999999998,288.6 Z" fill="#fff" stroke="#e39a2c" stroke-width="0.6" opacity="0.95"/><path d="M245.2,319.245 L247.155,321.2 L245.2,323.155 L243.24499999999998,321.2 Z" fill="#fff" stroke="#e39a2c" stroke-width="0.6" opacity="0.95"/>
<polyline points="228.8,301.6 240.3,303 250.5,294" fill="none" stroke="#e8a037" stroke-width="0.75" opacity="0.95"/>
<circle cx="228.8" cy="301.6" r="1.53" fill="#fff" stroke="#e39a2c" stroke-width="0.6" opacity="0.95"/><circle cx="240.3" cy="303" r="1.53" fill="#fff" stroke="#e39a2c" stroke-width="0.6" opacity="0.95"/><circle cx="250.5" cy="294" r="1.53" fill="#fff" stroke="#e39a2c" stroke-width="0.6" opacity="0.95"/>
<polyline points="223.3,329 237,289.9 245.2,308.2" fill="none" stroke="#e8a037" stroke-width="0.75" opacity="0.95"/>
<path d="M223.3,326 L223.3,332 M221.8,326 L224.8,326 M221.8,332 L224.8,332" stroke="#e8a037" stroke-width="0.8" opacity="0.95"/>
<path d="M245.2,304.2 L245.2,312.2 M243.7,304.2 L246.7,304.2 M243.7,312.2 L246.7,312.2" stroke="#e8a037" stroke-width="0.8" opacity="0.95"/>
<circle cx="223.3" cy="329" r="1.7" fill="#fff" stroke="#e39a2c" stroke-width="0.6" opacity="0.95"/><path d="M222.28,327.98 L224.32000000000002,330.02 M224.32000000000002,327.98 L222.28,330.02" stroke="#e39a2c" stroke-width="0.6" opacity="0.95"/><circle cx="237" cy="289.9" r="1.7" fill="#fff" stroke="#e39a2c" stroke-width="0.6" opacity="0.95"/><path d="M235.98,288.88 L238.02,290.91999999999996 M238.02,288.88 L235.98,290.91999999999996" stroke="#e39a2c" stroke-width="0.6" opacity="0.95"/><circle cx="245.2" cy="308.2" r="1.7" fill="#fff" stroke="#e39a2c" stroke-width="0.6" opacity="0.95"/><path d="M244.17999999999998,307.18 L246.22,309.21999999999997 M246.22,307.18 L244.17999999999998,309.21999999999997" stroke="#e39a2c" stroke-width="0.6" opacity="0.95"/>
<polyline points="229.8,308.2 239.3,278.8 248.4,292.5" fill="none" stroke="#e8a037" stroke-width="0.75" opacity="0.95"/>
<rect x="228.10000000000002" y="306.5" width="3.4" height="3.4" fill="#fff" stroke="#e39a2c" stroke-width="0.6" opacity="0.95"/><path d="M228.10000000000002,306.5 L231.5,309.9 M231.5,306.5 L228.10000000000002,309.9" stroke="#e39a2c" stroke-width="0.48" opacity="0.95"/><rect x="237.60000000000002" y="277.1" width="3.4" height="3.4" fill="#fff" stroke="#e39a2c" stroke-width="0.6" opacity="0.95"/><path d="M237.60000000000002,277.1 L241.0,280.5 M241.0,277.1 L237.60000000000002,280.5" stroke="#e39a2c" stroke-width="0.48" opacity="0.95"/><rect x="246.70000000000002" y="290.8" width="3.4" height="3.4" fill="#fff" stroke="#e39a2c" stroke-width="0.6" opacity="0.95"/><path d="M246.70000000000002,290.8 L250.1,294.2 M250.1,290.8 L246.70000000000002,294.2" stroke="#e39a2c" stroke-width="0.48" opacity="0.95"/>
<polyline points="226,306 236,286 247,300" fill="none" stroke="#e8a037" stroke-width="0.75" opacity="0.95"/>
<path d="M226,303.96 L228.04,306 L226,308.04 L223.96,306 Z" fill="#e39a2c" stroke="#e39a2c" stroke-width="0.3" opacity="0.95"/><path d="M236,283.96 L238.04,286 L236,288.04 L233.96,286 Z" fill="#e39a2c" stroke="#e39a2c" stroke-width="0.3" opacity="0.95"/><path d="M247,297.96 L249.04,300 L247,302.04 L244.96,300 Z" fill="#e39a2c" stroke="#e39a2c" stroke-width="0.3" opacity="0.95"/>
<polyline points="61.8,453.5 71,467 86.3,429.2" fill="none" stroke="#e8a037" stroke-width="0.75" opacity="0.95"/>
<path d="M86.3,424.2 L86.3,434.2 M84.8,424.2 L87.8,424.2 M84.8,434.2 L87.8,434.2" stroke="#e8a037" stroke-width="0.8" opacity="0.95"/>
<circle cx="61.8" cy="453.5" r="1.7" fill="#fff" stroke="#e39a2c" stroke-width="0.6" opacity="0.95"/><circle cx="71" cy="467" r="1.7" fill="#fff" stroke="#e39a2c" stroke-width="0.6" opacity="0.95"/><circle cx="86.3" cy="429.2" r="1.7" fill="#fff" stroke="#e39a2c" stroke-width="0.6" opacity="0.95"/>
<polyline points="60.4,480 71.3,483.2 84.9,458.6" fill="none" stroke="#e8a037" stroke-width="0.75" opacity="0.95"/>
<rect x="58.699999999999996" y="478.3" width="3.4" height="3.4" fill="#fff" stroke="#e39a2c" stroke-width="0.6" opacity="0.95"/><rect x="69.6" y="481.5" width="3.4" height="3.4" fill="#fff" stroke="#e39a2c" stroke-width="0.6" opacity="0.95"/><rect x="83.2" y="456.90000000000003" width="3.4" height="3.4" fill="#fff" stroke="#e39a2c" stroke-width="0.6" opacity="0.95"/>
<polyline points="63,450 72,463 86,434.1" fill="none" stroke="#e8a037" stroke-width="0.75" opacity="0.95"/>
<path d="M86,429.1 L86,439.1 M84.5,429.1 L87.5,429.1 M84.5,439.1 L87.5,439.1" stroke="#e8a037" stroke-width="0.8" opacity="0.95"/>
<path d="M63,448.13 L64.785,451.36 L61.215,451.36 Z" fill="#fff" stroke="#e39a2c" stroke-width="0.6" opacity="0.95"/><path d="M72,461.13 L73.785,464.36 L70.215,464.36 Z" fill="#fff" stroke="#e39a2c" stroke-width="0.6" opacity="0.95"/><path d="M86,432.23 L87.785,435.46000000000004 L84.215,435.46000000000004 Z" fill="#fff" stroke="#e39a2c" stroke-width="0.6" opacity="0.95"/>
<polyline points="60,452 71,465 83,452" fill="none" stroke="#e8a037" stroke-width="0.75" opacity="0.95"/>
<path d="M60,453.87 L61.785,450.64 L58.215,450.64 Z" fill="#fff" stroke="#e39a2c" stroke-width="0.6" opacity="0.95"/><path d="M71,466.87 L72.785,463.64 L69.215,463.64 Z" fill="#fff" stroke="#e39a2c" stroke-width="0.6" opacity="0.95"/><path d="M83,453.87 L84.785,450.64 L81.215,450.64 Z" fill="#fff" stroke="#e39a2c" stroke-width="0.6" opacity="0.95"/>
<polyline points="61.8,444.2 72.8,470.2 81.2,448.5" fill="none" stroke="#e8a037" stroke-width="0.75" opacity="0.95"/>
<path d="M61.8,442.245 L63.754999999999995,444.2 L61.8,446.155 L59.845,444.2 Z" fill="#fff" stroke="#e39a2c" stroke-width="0.6" opacity="0.95"/><path d="M72.8,468.245 L74.755,470.2 L72.8,472.155 L70.845,470.2 Z" fill="#fff" stroke="#e39a2c" stroke-width="0.6" opacity="0.95"/><path d="M81.2,446.545 L83.155,448.5 L81.2,450.455 L79.245,448.5 Z" fill="#fff" stroke="#e39a2c" stroke-width="0.6" opacity="0.95"/>
<polyline points="63.3,458 71.9,449.4 86.3,459.2" fill="none" stroke="#e8a037" stroke-width="0.75" opacity="0.95"/>
<path d="M71.9,446.4 L71.9,452.4 M70.4,446.4 L73.4,446.4 M70.4,452.4 L73.4,452.4" stroke="#e8a037" stroke-width="0.8" opacity="0.95"/>
<circle cx="63.3" cy="458" r="1.53" fill="#fff" stroke="#e39a2c" stroke-width="0.6" opacity="0.95"/><circle cx="71.9" cy="449.4" r="1.53" fill="#fff" stroke="#e39a2c" stroke-width="0.6" opacity="0.95"/><circle cx="86.3" cy="459.2" r="1.53" fill="#fff" stroke="#e39a2c" stroke-width="0.6" opacity="0.95"/>
<polyline points="59,460.7 70.5,467.9 82.5,465" fill="none" stroke="#e8a037" stroke-width="0.75" opacity="0.95"/>
<circle cx="59" cy="460.7" r="1.7" fill="#fff" stroke="#e39a2c" stroke-width="0.6" opacity="0.95"/><path d="M57.98,459.68 L60.02,461.71999999999997 M60.02,459.68 L57.98,461.71999999999997" stroke="#e39a2c" stroke-width="0.6" opacity="0.95"/><circle cx="70.5" cy="467.9" r="1.7" fill="#fff" stroke="#e39a2c" stroke-width="0.6" opacity="0.95"/><path d="M69.48,466.88 L71.52,468.91999999999996 M71.52,466.88 L69.48,468.91999999999996" stroke="#e39a2c" stroke-width="0.6" opacity="0.95"/><circle cx="82.5" cy="465" r="1.7" fill="#fff" stroke="#e39a2c" stroke-width="0.6" opacity="0.95"/><path d="M81.48,463.98 L83.52,466.02 M83.52,463.98 L81.48,466.02" stroke="#e39a2c" stroke-width="0.6" opacity="0.95"/>
<polyline points="63.8,445.1 73,466 84,470" fill="none" stroke="#e8a037" stroke-width="0.75" opacity="0.95"/>
<rect x="62.099999999999994" y="443.40000000000003" width="3.4" height="3.4" fill="#fff" stroke="#e39a2c" stroke-width="0.6" opacity="0.95"/><path d="M62.099999999999994,443.40000000000003 L65.5,446.8 M65.5,443.40000000000003 L62.099999999999994,446.8" stroke="#e39a2c" stroke-width="0.48" opacity="0.95"/><rect x="71.3" y="464.3" width="3.4" height="3.4" fill="#fff" stroke="#e39a2c" stroke-width="0.6" opacity="0.95"/><path d="M71.3,464.3 L74.7,467.7 M74.7,464.3 L71.3,467.7" stroke="#e39a2c" stroke-width="0.48" opacity="0.95"/><rect x="82.3" y="468.3" width="3.4" height="3.4" fill="#fff" stroke="#e39a2c" stroke-width="0.6" opacity="0.95"/><path d="M82.3,468.3 L85.7,471.7 M85.7,468.3 L82.3,471.7" stroke="#e39a2c" stroke-width="0.48" opacity="0.95"/>
<polyline points="59.5,423.6 72,470 82.5,449" fill="none" stroke="#e8a037" stroke-width="0.75" opacity="0.95"/>
<path d="M59.5,419.1 L59.5,428.1 M58.0,419.1 L61.0,419.1 M58.0,428.1 L61.0,428.1" stroke="#e8a037" stroke-width="0.8" opacity="0.95"/>
<path d="M59.5,421.56 L61.54,423.6 L59.5,425.64000000000004 L57.46,423.6 Z" fill="#e39a2c" stroke="#e39a2c" stroke-width="0.3" opacity="0.95"/><path d="M72,467.96 L74.04,470 L72,472.04 L69.96,470 Z" fill="#e39a2c" stroke="#e39a2c" stroke-width="0.3" opacity="0.95"/><path d="M82.5,446.96 L84.54,449 L82.5,451.04 L80.46,449 Z" fill="#e39a2c" stroke="#e39a2c" stroke-width="0.3" opacity="0.95"/>
<polyline points="228.3,455.2 239.8,452.5 249.8,482.1" fill="none" stroke="#e8a037" stroke-width="0.75" opacity="0.95"/>
<path d="M239.8,445.5 L239.8,459.5 M238.3,445.5 L241.3,445.5 M238.3,459.5 L241.3,459.5" stroke="#e8a037" stroke-width="0.8" opacity="0.95"/>
<circle cx="228.3" cy="455.2" r="1.7" fill="#fff" stroke="#e39a2c" stroke-width="0.6" opacity="0.95"/><circle cx="239.8" cy="452.5" r="1.7" fill="#fff" stroke="#e39a2c" stroke-width="0.6" opacity="0.95"/><circle cx="249.8" cy="482.1" r="1.7" fill="#fff" stroke="#e39a2c" stroke-width="0.6" opacity="0.95"/>
<polyline points="224.8,471.4 237.7,472.7 245.8,480.2" fill="none" stroke="#e8a037" stroke-width="0.75" opacity="0.95"/>
<rect x="223.10000000000002" y="469.7" width="3.4" height="3.4" fill="#fff" stroke="#e39a2c" stroke-width="0.6" opacity="0.95"/><rect x="236.0" y="471.0" width="3.4" height="3.4" fill="#fff" stroke="#e39a2c" stroke-width="0.6" opacity="0.95"/><rect x="244.10000000000002" y="478.5" width="3.4" height="3.4" fill="#fff" stroke="#e39a2c" stroke-width="0.6" opacity="0.95"/>
<polyline points="227,472.7 235,480.8 250.6,464.6" fill="none" stroke="#e8a037" stroke-width="0.75" opacity="0.95"/>
<path d="M227,470.83 L228.785,474.06 L225.215,474.06 Z" fill="#fff" stroke="#e39a2c" stroke-width="0.6" opacity="0.95"/><path d="M235,478.93 L236.785,482.16 L233.215,482.16 Z" fill="#fff" stroke="#e39a2c" stroke-width="0.6" opacity="0.95"/><path d="M250.6,462.73 L252.385,465.96000000000004 L248.815,465.96000000000004 Z" fill="#fff" stroke="#e39a2c" stroke-width="0.6" opacity="0.95"/>
<polyline points="224.8,478.1 237.7,483.5 249.8,467.3" fill="none" stroke="#e8a037" stroke-width="0.75" opacity="0.95"/>
<path d="M224.8,479.97 L226.585,476.74 L223.01500000000001,476.74 Z" fill="#fff" stroke="#e39a2c" stroke-width="0.6" opacity="0.95"/><path d="M237.7,485.37 L239.48499999999999,482.14 L235.915,482.14 Z" fill="#fff" stroke="#e39a2c" stroke-width="0.6" opacity="0.95"/><path d="M249.8,469.17 L251.585,465.94 L248.01500000000001,465.94 Z" fill="#fff" stroke="#e39a2c" stroke-width="0.6" opacity="0.95"/>
<polyline points="224.8,432.8 235,469.5 246,476" fill="none" stroke="#e8a037" stroke-width="0.75" opacity="0.95"/>
<path d="M224.8,423.8 L224.8,441.8 M223.3,423.8 L226.3,423.8 M223.3,441.8 L226.3,441.8" stroke="#e8a037" stroke-width="0.8" opacity="0.95"/>
<path d="M224.8,430.845 L226.75500000000002,432.8 L224.8,434.755 L222.845,432.8 Z" fill="#fff" stroke="#e39a2c" stroke-width="0.6" opacity="0.95"/><path d="M235,467.545 L236.955,469.5 L235,471.455 L233.045,469.5 Z" fill="#fff" stroke="#e39a2c" stroke-width="0.6" opacity="0.95"/><path d="M246,474.045 L247.955,476 L246,477.955 L244.045,476 Z" fill="#fff" stroke="#e39a2c" stroke-width="0.6" opacity="0.95"/>
<polyline points="226,468 238,478 251,470" fill="none" stroke="#e8a037" stroke-width="0.75" opacity="0.95"/>
<circle cx="226" cy="468" r="1.53" fill="#fff" stroke="#e39a2c" stroke-width="0.6" opacity="0.95"/><circle cx="238" cy="478" r="1.53" fill="#fff" stroke="#e39a2c" stroke-width="0.6" opacity="0.95"/><circle cx="251" cy="470" r="1.53" fill="#fff" stroke="#e39a2c" stroke-width="0.6" opacity="0.95"/>
<polyline points="224.8,464.6 236,475 246.5,481" fill="none" stroke="#e8a037" stroke-width="0.75" opacity="0.95"/>
<path d="M224.8,459.6 L224.8,469.6 M223.3,459.6 L226.3,459.6 M223.3,469.6 L226.3,469.6" stroke="#e8a037" stroke-width="0.8" opacity="0.95"/>
<circle cx="224.8" cy="464.6" r="1.7" fill="#fff" stroke="#e39a2c" stroke-width="0.6" opacity="0.95"/><path d="M223.78,463.58000000000004 L225.82000000000002,465.62 M225.82000000000002,463.58000000000004 L223.78,465.62" stroke="#e39a2c" stroke-width="0.6" opacity="0.95"/><circle cx="236" cy="475" r="1.7" fill="#fff" stroke="#e39a2c" stroke-width="0.6" opacity="0.95"/><path d="M234.98,473.98 L237.02,476.02 M237.02,473.98 L234.98,476.02" stroke="#e39a2c" stroke-width="0.6" opacity="0.95"/><circle cx="246.5" cy="481" r="1.7" fill="#fff" stroke="#e39a2c" stroke-width="0.6" opacity="0.95"/><path d="M245.48,479.98 L247.52,482.02 M247.52,479.98 L245.48,482.02" stroke="#e39a2c" stroke-width="0.6" opacity="0.95"/>
<polyline points="226,474 238.5,479 250,476" fill="none" stroke="#e8a037" stroke-width="0.75" opacity="0.95"/>
<rect x="224.3" y="472.3" width="3.4" height="3.4" fill="#fff" stroke="#e39a2c" stroke-width="0.6" opacity="0.95"/><path d="M224.3,472.3 L227.7,475.7 M227.7,472.3 L224.3,475.7" stroke="#e39a2c" stroke-width="0.48" opacity="0.95"/><rect x="236.8" y="477.3" width="3.4" height="3.4" fill="#fff" stroke="#e39a2c" stroke-width="0.6" opacity="0.95"/><path d="M236.8,477.3 L240.2,480.7 M240.2,477.3 L236.8,480.7" stroke="#e39a2c" stroke-width="0.48" opacity="0.95"/><rect x="248.3" y="474.3" width="3.4" height="3.4" fill="#fff" stroke="#e39a2c" stroke-width="0.6" opacity="0.95"/><path d="M248.3,474.3 L251.7,477.7 M251.7,474.3 L248.3,477.7" stroke="#e39a2c" stroke-width="0.48" opacity="0.95"/>
<polyline points="224.8,444.4 236,477 246.3,449.8" fill="none" stroke="#e8a037" stroke-width="0.75" opacity="0.95"/>
<path d="M246.3,442.8 L246.3,456.8 M244.8,442.8 L247.8,442.8 M244.8,456.8 L247.8,456.8" stroke="#e8a037" stroke-width="0.8" opacity="0.95"/>
<path d="M224.8,442.35999999999996 L226.84,444.4 L224.8,446.44 L222.76000000000002,444.4 Z" fill="#e39a2c" stroke="#e39a2c" stroke-width="0.3" opacity="0.95"/><path d="M236,474.96 L238.04,477 L236,479.04 L233.96,477 Z" fill="#e39a2c" stroke="#e39a2c" stroke-width="0.3" opacity="0.95"/><path d="M246.3,447.76 L248.34,449.8 L246.3,451.84000000000003 L244.26000000000002,449.8 Z" fill="#e39a2c" stroke="#e39a2c" stroke-width="0.3" opacity="0.95"/>
<polyline points="108.4,347.4 119.4,346.3 129.7,348.2" fill="none" stroke="#22408a" stroke-width="0.8" opacity="1.0"/>
<circle cx="108.4" cy="347.4" r="1.8" fill="#22408a"/><circle cx="119.4" cy="346.3" r="1.8" fill="#22408a"/><circle cx="129.7" cy="348.2" r="1.8" fill="#22408a"/>
<polyline points="104,333.3 115,287 125.8,345.4" fill="none" stroke="#22408a" stroke-width="0.8" opacity="1.0"/>
<path d="M115,283 L115,291 M113.4,283 L116.6,283 M113.4,291 L116.6,291" stroke="#22408a" stroke-width="0.8" opacity="1.0"/>
<rect x="102.2" y="331.5" width="3.6" height="3.6" fill="#22408a"/><rect x="113.2" y="285.2" width="3.6" height="3.6" fill="#22408a"/><rect x="124.0" y="343.59999999999997" width="3.6" height="3.6" fill="#22408a"/>
<polyline points="149.1,347.4 159.6,345.4" fill="none" stroke="#b5203e" stroke-width="0.8" opacity="1.0"/>
<circle cx="149.1" cy="347.4" r="1.8" fill="#b5203e"/><circle cx="159.6" cy="345.4" r="1.8" fill="#b5203e"/>
<polyline points="267.4,274.8 277.8,272.9 288.3,286.6" fill="none" stroke="#22408a" stroke-width="0.8" opacity="1.0"/>
<path d="M288.3,277.0 L288.3,296.20000000000005 M286.7,277.0 L289.90000000000003,277.0 M286.7,296.20000000000005 L289.90000000000003,296.20000000000005" stroke="#22408a" stroke-width="0.8" opacity="1.0"/>
<circle cx="267.4" cy="274.8" r="1.8" fill="#22408a"/><circle cx="277.8" cy="272.9" r="1.8" fill="#22408a"/><circle cx="288.3" cy="286.6" r="1.8" fill="#22408a"/>
<polyline points="271.3,275.5 281.8,272.9 292.5,273.5" fill="none" stroke="#22408a" stroke-width="0.8" opacity="1.0"/>
<rect x="269.5" y="273.7" width="3.6" height="3.6" fill="#22408a"/><rect x="280.0" y="271.09999999999997" width="3.6" height="3.6" fill="#22408a"/><rect x="290.7" y="271.7" width="3.6" height="3.6" fill="#22408a"/>
<polyline points="312.2,285.3 323,278.8" fill="none" stroke="#b5203e" stroke-width="0.8" opacity="1.0"/>
<path d="M312.2,282.3 L312.2,288.3 M310.59999999999997,282.3 L313.8,282.3 M310.59999999999997,288.3 L313.8,288.3" stroke="#b5203e" stroke-width="0.8" opacity="1.0"/>
<circle cx="312.2" cy="285.3" r="1.8" fill="#b5203e"/><circle cx="323" cy="278.8" r="1.8" fill="#b5203e"/>
<polyline points="105.1,482.6 117.5,484.6 126.7,467.3" fill="none" stroke="#22408a" stroke-width="0.8" opacity="1.0"/>
<path d="M126.7,455.8 L126.7,478.8 M125.10000000000001,455.8 L128.3,455.8 M125.10000000000001,478.8 L128.3,478.8" stroke="#22408a" stroke-width="0.8" opacity="1.0"/>
<circle cx="105.1" cy="482.6" r="1.8" fill="#22408a"/><circle cx="117.5" cy="484.6" r="1.8" fill="#22408a"/><circle cx="126.7" cy="467.3" r="1.8" fill="#22408a"/>
<polyline points="108.5,481.7 119.5,484.6 130.2,484" fill="none" stroke="#22408a" stroke-width="0.8" opacity="1.0"/>
<rect x="106.7" y="479.9" width="3.6" height="3.6" fill="#22408a"/><rect x="117.7" y="482.8" width="3.6" height="3.6" fill="#22408a"/><rect x="128.39999999999998" y="482.2" width="3.6" height="3.6" fill="#22408a"/>
<polyline points="149.2,470.2 159.9,481.7" fill="none" stroke="#b5203e" stroke-width="0.8" opacity="1.0"/>
<path d="M149.2,466.2 L149.2,474.2 M147.6,466.2 L150.79999999999998,466.2 M147.6,474.2 L150.79999999999998,474.2" stroke="#b5203e" stroke-width="0.8" opacity="1.0"/>
<circle cx="149.2" cy="470.2" r="1.8" fill="#b5203e"/><circle cx="159.9" cy="481.7" r="1.8" fill="#b5203e"/>
<polyline points="267.3,484.5 278,484.5 288.9,484.5" fill="none" stroke="#22408a" stroke-width="0.8" opacity="1.0"/>
<circle cx="267.3" cy="484.5" r="1.8" fill="#22408a"/><circle cx="278" cy="484.5" r="1.8" fill="#22408a"/><circle cx="288.9" cy="484.5" r="1.8" fill="#22408a"/>
<polyline points="271.6,484.5 282.7,484.5 292.9,484.5" fill="none" stroke="#22408a" stroke-width="0.8" opacity="1.0"/>
<rect x="269.8" y="482.7" width="3.6" height="3.6" fill="#22408a"/><rect x="280.9" y="482.7" width="3.6" height="3.6" fill="#22408a"/><rect x="291.09999999999997" y="482.7" width="3.6" height="3.6" fill="#22408a"/>
<polyline points="311.7,483.5 323,462.7" fill="none" stroke="#b5203e" stroke-width="0.8" opacity="1.0"/>
<path d="M323,455.7 L323,469.7 M321.4,455.7 L324.6,455.7 M321.4,469.7 L324.6,469.7" stroke="#b5203e" stroke-width="0.8" opacity="1.0"/>
<circle cx="311.7" cy="483.5" r="1.8" fill="#b5203e"/><circle cx="323" cy="462.7" r="1.8" fill="#b5203e"/>
<path d="M420.0,285.4 L432.5,301.5 L445.0,306.2 L457.4,307 L469.9,307 L482.4,303.5 L482.4,305.7 L469.9,307.4 L457.4,307.2 L445.0,307 L432.5,303 L420.0,298.5 Z" fill="#f2c27e" stroke="none"/>
<path d="M420.0,292.3 L432.5,302 L445.0,306.5 L457.4,307.1 L469.9,307.2 L482.4,304.8" fill="none" stroke="#e39a30" stroke-width="0.9"/>
<path d="M420.0,285.4 L432.5,301.5 L445.0,306.2 L457.4,307 L469.9,307 L482.4,303.5" fill="none" stroke="#1a1a1a" stroke-width="0.85" stroke-dasharray="1.7,1.2"/>
<path d="M420.0,298.5 L432.5,303 L445.0,307 L457.4,307.2 L469.9,307.4 L482.4,305.7" fill="none" stroke="#1a1a1a" stroke-width="0.85" stroke-dasharray="1.7,1.2"/>
<path d="M420.0,285.4 L420.0,298.5 M482.4,303.5 L482.4,305.7" stroke="#f2c27e" stroke-width="0.6"/>
<path d="M420.0,358 L432.5,380.5 L445.0,385.7 L457.4,387.4 L469.9,387 L482.4,382.7 L482.4,386.5 L469.9,387.7 L457.4,387.7 L445.0,386.5 L432.5,386.5 L420.0,379.6 Z" fill="#8c97c8" stroke="none"/>
<path d="M420.0,369.2 L432.5,382.7 L445.0,386 L457.4,387.5 L469.9,387.3 L482.4,385.1" fill="none" stroke="#3a4f95" stroke-width="0.9"/>
<path d="M420.0,358 L432.5,380.5 L445.0,385.7 L457.4,387.4 L469.9,387 L482.4,382.7" fill="none" stroke="#1a1a1a" stroke-width="0.85" stroke-dasharray="1.7,1.2"/>
<path d="M420.0,379.6 L432.5,386.5 L445.0,386.5 L457.4,387.7 L469.9,387.7 L482.4,386.5" fill="none" stroke="#1a1a1a" stroke-width="0.85" stroke-dasharray="1.7,1.2"/>
<path d="M420.0,358 L420.0,379.6 M482.4,382.7 L482.4,386.5" stroke="#8c97c8" stroke-width="0.6"/>
<path d="M420.0,459.1 L432.5,467.1 L445.0,463.5 L457.4,459.8 L469.9,450.9 L482.4,434.8 L482.4,462 L469.9,466.4 L457.4,465.8 L445.0,468.6 L432.5,468.6 L420.0,465.3 Z" fill="#f2c27e" stroke="none"/>
<path d="M420.0,462.7 L432.5,468 L445.0,466.4 L457.4,462.7 L469.9,458.2 L482.4,448" fill="none" stroke="#e39a30" stroke-width="0.9"/>
<path d="M420.0,459.1 L432.5,467.1 L445.0,463.5 L457.4,459.8 L469.9,450.9 L482.4,434.8" fill="none" stroke="#1a1a1a" stroke-width="0.85" stroke-dasharray="1.7,1.2"/>
<path d="M420.0,465.3 L432.5,468.6 L445.0,468.6 L457.4,465.8 L469.9,466.4 L482.4,462" fill="none" stroke="#1a1a1a" stroke-width="0.85" stroke-dasharray="1.7,1.2"/>
<path d="M420.0,459.1 L420.0,465.3 M482.4,434.8 L482.4,462" stroke="#f2c27e" stroke-width="0.6"/>
<path d="M420.0,548.2 L432.5,548 L445.0,547.6 L457.4,548 L469.9,543.8 L482.4,534.6 L482.4,543.4 L469.9,547.3 L457.4,548.6 L445.0,548.4 L432.5,548.6 L420.0,548.6 Z" fill="#8c97c8" stroke="none"/>
<path d="M420.0,548.4 L432.5,548.3 L445.0,548 L457.4,548.3 L469.9,545.6 L482.4,539.2" fill="none" stroke="#6f80bb" stroke-width="0.9"/>
<clipPath id="cp548"><rect x="437" y="0" width="100" height="590"/></clipPath>
<path d="M420.0,548.2 L432.5,548 L445.0,547.6 L457.4,548 L469.9,543.8 L482.4,534.6" fill="none" stroke="#1a1a1a" stroke-width="0.85" stroke-dasharray="1.7,1.2" clip-path="url(#cp548)"/>
<path d="M420.0,548.6 L432.5,548.6 L445.0,548.4 L457.4,548.6 L469.9,547.3 L482.4,543.4" fill="none" stroke="#1a1a1a" stroke-width="0.85" stroke-dasharray="1.7,1.2" clip-path="url(#cp548)"/>
<path d="M420.0,548.2 L420.0,548.6 M482.4,534.6 L482.4,543.4" stroke="#8c97c8" stroke-width="0.6"/>
<text x="7.5" y="262.6" font-size="11.1" font-weight="bold" fill="#000" stroke="#000" stroke-width="0.3">D</text>
<line x1="44.0" y1="273.1" x2="44.0" y2="352.5" stroke="#231f20" stroke-width="1.45"/>
<line x1="41.0" y1="283.4" x2="44.0" y2="283.4" stroke="#231f20" stroke-width="1.0"/>
<text x="37.6" y="285.9" font-size="8.3" text-anchor="end" textLength="16.2" lengthAdjust="spacingAndGlyphs" fill="#231f20" stroke="#231f20" stroke-width="0.12">3000</text>
<line x1="41.0" y1="305.3" x2="44.0" y2="305.3" stroke="#231f20" stroke-width="1.0"/>
<text x="37.6" y="307.8" font-size="8.3" text-anchor="end" textLength="16.2" lengthAdjust="spacingAndGlyphs" fill="#231f20" stroke="#231f20" stroke-width="0.12">2000</text>
<line x1="41.0" y1="327.3" x2="44.0" y2="327.3" stroke="#231f20" stroke-width="1.0"/>
<text x="37.6" y="329.8" font-size="8.3" text-anchor="end" textLength="16.2" lengthAdjust="spacingAndGlyphs" fill="#231f20" stroke="#231f20" stroke-width="0.12">1000</text>
<line x1="41.0" y1="349.4" x2="44.0" y2="349.4" stroke="#231f20" stroke-width="1.0"/>
<text x="37.6" y="351.9" font-size="8.3" text-anchor="end" textLength="4.05" lengthAdjust="spacingAndGlyphs" fill="#231f20" stroke="#231f20" stroke-width="0.12">0</text>
<line x1="52.9" y1="361.7" x2="165.3" y2="361.7" stroke="#231f20" stroke-width="1.5"/>
<line x1="63.6" y1="361.7" x2="63.6" y2="364.7" stroke="#231f20" stroke-width="1.0"/>
<line x1="74.2" y1="361.7" x2="74.2" y2="364.7" stroke="#231f20" stroke-width="1.0"/>
<line x1="84.8" y1="361.7" x2="84.8" y2="364.7" stroke="#231f20" stroke-width="1.0"/>
<line x1="106.3" y1="361.7" x2="106.3" y2="364.7" stroke="#231f20" stroke-width="1.0"/>
<line x1="117.1" y1="361.7" x2="117.1" y2="364.7" stroke="#231f20" stroke-width="1.0"/>
<line x1="127.9" y1="361.7" x2="127.9" y2="364.7" stroke="#231f20" stroke-width="1.0"/>
<line x1="149.4" y1="361.7" x2="149.4" y2="364.7" stroke="#231f20" stroke-width="1.0"/>
<line x1="159.9" y1="361.7" x2="159.9" y2="364.7" stroke="#231f20" stroke-width="1.0"/>
<text x="64.0" y="374.7" font-size="8.3" text-anchor="middle" textLength="8.1" lengthAdjust="spacingAndGlyphs" fill="#231f20" stroke="#231f20" stroke-width="0.12">14</text>
<text x="74.60000000000001" y="374.7" font-size="8.3" text-anchor="middle" textLength="8.1" lengthAdjust="spacingAndGlyphs" fill="#231f20" stroke="#231f20" stroke-width="0.12">21</text>
<text x="85.2" y="374.7" font-size="8.3" text-anchor="middle" textLength="8.1" lengthAdjust="spacingAndGlyphs" fill="#231f20" stroke="#231f20" stroke-width="0.12">49</text>
<text x="106.7" y="374.7" font-size="8.3" text-anchor="middle" textLength="8.1" lengthAdjust="spacingAndGlyphs" fill="#231f20" stroke="#231f20" stroke-width="0.12">14</text>
<text x="117.5" y="374.7" font-size="8.3" text-anchor="middle" textLength="8.1" lengthAdjust="spacingAndGlyphs" fill="#231f20" stroke="#231f20" stroke-width="0.12">21</text>
<text x="128.3" y="374.7" font-size="8.3" text-anchor="middle" textLength="8.1" lengthAdjust="spacingAndGlyphs" fill="#231f20" stroke="#231f20" stroke-width="0.12">49</text>
<text x="149.8" y="374.7" font-size="8.3" text-anchor="middle" textLength="8.1" lengthAdjust="spacingAndGlyphs" fill="#231f20" stroke="#231f20" stroke-width="0.12">14</text>
<text x="160.3" y="374.7" font-size="8.3" text-anchor="middle" textLength="8.1" lengthAdjust="spacingAndGlyphs" fill="#231f20" stroke="#231f20" stroke-width="0.12">21</text>
<line x1="207.25" y1="270.0" x2="207.25" y2="351.8" stroke="#231f20" stroke-width="1.45"/>
<line x1="204.25" y1="272.5" x2="207.25" y2="272.5" stroke="#231f20" stroke-width="1.0"/>
<text x="201.3" y="275.0" font-size="8.3" text-anchor="end" textLength="12.15" lengthAdjust="spacingAndGlyphs" fill="#231f20" stroke="#231f20" stroke-width="0.12">100</text>
<line x1="204.25" y1="287.9" x2="207.25" y2="287.9" stroke="#231f20" stroke-width="1.0"/>
<text x="201.3" y="290.4" font-size="8.3" text-anchor="end" textLength="8.1" lengthAdjust="spacingAndGlyphs" fill="#231f20" stroke="#231f20" stroke-width="0.12">80</text>
<line x1="204.25" y1="303.4" x2="207.25" y2="303.4" stroke="#231f20" stroke-width="1.0"/>
<text x="201.3" y="305.9" font-size="8.3" text-anchor="end" textLength="8.1" lengthAdjust="spacingAndGlyphs" fill="#231f20" stroke="#231f20" stroke-width="0.12">60</text>
<line x1="204.25" y1="318.8" x2="207.25" y2="318.8" stroke="#231f20" stroke-width="1.0"/>
<text x="201.3" y="321.3" font-size="8.3" text-anchor="end" textLength="8.1" lengthAdjust="spacingAndGlyphs" fill="#231f20" stroke="#231f20" stroke-width="0.12">40</text>
<line x1="204.25" y1="334.3" x2="207.25" y2="334.3" stroke="#231f20" stroke-width="1.0"/>
<text x="201.3" y="336.8" font-size="8.3" text-anchor="end" textLength="8.1" lengthAdjust="spacingAndGlyphs" fill="#231f20" stroke="#231f20" stroke-width="0.12">20</text>
<line x1="204.25" y1="349.7" x2="207.25" y2="349.7" stroke="#231f20" stroke-width="1.0"/>
<text x="201.3" y="352.2" font-size="8.3" text-anchor="end" textLength="4.05" lengthAdjust="spacingAndGlyphs" fill="#231f20" stroke="#231f20" stroke-width="0.12">0</text>
<line x1="216.25" y1="362.0" x2="328.0" y2="362.0" stroke="#231f20" stroke-width="1.5"/>
<line x1="226.75" y1="362.0" x2="226.75" y2="365.0" stroke="#231f20" stroke-width="1.0"/>
<line x1="237.5" y1="362.0" x2="237.5" y2="365.0" stroke="#231f20" stroke-width="1.0"/>
<line x1="248.0" y1="362.0" x2="248.0" y2="365.0" stroke="#231f20" stroke-width="1.0"/>
<line x1="269.5" y1="362.0" x2="269.5" y2="365.0" stroke="#231f20" stroke-width="1.0"/>
<line x1="280.0" y1="362.0" x2="280.0" y2="365.0" stroke="#231f20" stroke-width="1.0"/>
<line x1="290.5" y1="362.0" x2="290.5" y2="365.0" stroke="#231f20" stroke-width="1.0"/>
<line x1="312.5" y1="362.0" x2="312.5" y2="365.0" stroke="#231f20" stroke-width="1.0"/>
<line x1="323.0" y1="362.0" x2="323.0" y2="365.0" stroke="#231f20" stroke-width="1.0"/>
<text x="227.15" y="374.7" font-size="8.3" text-anchor="middle" textLength="8.1" lengthAdjust="spacingAndGlyphs" fill="#231f20" stroke="#231f20" stroke-width="0.12">14</text>
<text x="237.9" y="374.7" font-size="8.3" text-anchor="middle" textLength="8.1" lengthAdjust="spacingAndGlyphs" fill="#231f20" stroke="#231f20" stroke-width="0.12">21</text>
<text x="248.4" y="374.7" font-size="8.3" text-anchor="middle" textLength="8.1" lengthAdjust="spacingAndGlyphs" fill="#231f20" stroke="#231f20" stroke-width="0.12">49</text>
<text x="269.9" y="374.7" font-size="8.3" text-anchor="middle" textLength="8.1" lengthAdjust="spacingAndGlyphs" fill="#231f20" stroke="#231f20" stroke-width="0.12">14</text>
<text x="280.4" y="374.7" font-size="8.3" text-anchor="middle" textLength="8.1" lengthAdjust="spacingAndGlyphs" fill="#231f20" stroke="#231f20" stroke-width="0.12">21</text>
<text x="290.9" y="374.7" font-size="8.3" text-anchor="middle" textLength="8.1" lengthAdjust="spacingAndGlyphs" fill="#231f20" stroke="#231f20" stroke-width="0.12">49</text>
<text x="312.9" y="374.7" font-size="8.3" text-anchor="middle" textLength="8.1" lengthAdjust="spacingAndGlyphs" fill="#231f20" stroke="#231f20" stroke-width="0.12">14</text>
<text x="323.4" y="374.7" font-size="8.3" text-anchor="middle" textLength="8.1" lengthAdjust="spacingAndGlyphs" fill="#231f20" stroke="#231f20" stroke-width="0.12">21</text>
<line x1="44.0" y1="405.3" x2="44.0" y2="487.0" stroke="#231f20" stroke-width="1.45"/>
<line x1="41.0" y1="407.6" x2="44.0" y2="407.6" stroke="#231f20" stroke-width="1.0"/>
<text x="37.9" y="410.1" font-size="8.3" text-anchor="end" textLength="8.1" lengthAdjust="spacingAndGlyphs" fill="#231f20" stroke="#231f20" stroke-width="0.12">80</text>
<line x1="41.0" y1="426.9" x2="44.0" y2="426.9" stroke="#231f20" stroke-width="1.0"/>
<text x="37.9" y="429.4" font-size="8.3" text-anchor="end" textLength="8.1" lengthAdjust="spacingAndGlyphs" fill="#231f20" stroke="#231f20" stroke-width="0.12">60</text>
<line x1="41.0" y1="446.2" x2="44.0" y2="446.2" stroke="#231f20" stroke-width="1.0"/>
<text x="37.9" y="448.7" font-size="8.3" text-anchor="end" textLength="8.1" lengthAdjust="spacingAndGlyphs" fill="#231f20" stroke="#231f20" stroke-width="0.12">40</text>
<line x1="41.0" y1="465.4" x2="44.0" y2="465.4" stroke="#231f20" stroke-width="1.0"/>
<text x="37.9" y="467.9" font-size="8.3" text-anchor="end" textLength="8.1" lengthAdjust="spacingAndGlyphs" fill="#231f20" stroke="#231f20" stroke-width="0.12">20</text>
<line x1="41.0" y1="484.6" x2="44.0" y2="484.6" stroke="#231f20" stroke-width="1.0"/>
<text x="37.9" y="487.1" font-size="8.3" text-anchor="end" textLength="4.05" lengthAdjust="spacingAndGlyphs" fill="#231f20" stroke="#231f20" stroke-width="0.12">0</text>
<line x1="53.2" y1="496.7" x2="164.2" y2="496.7" stroke="#231f20" stroke-width="1.5"/>
<line x1="63.6" y1="496.7" x2="63.6" y2="499.7" stroke="#231f20" stroke-width="1.0"/>
<line x1="74.2" y1="496.7" x2="74.2" y2="499.7" stroke="#231f20" stroke-width="1.0"/>
<line x1="84.8" y1="496.7" x2="84.8" y2="499.7" stroke="#231f20" stroke-width="1.0"/>
<line x1="106.3" y1="496.7" x2="106.3" y2="499.7" stroke="#231f20" stroke-width="1.0"/>
<line x1="117.1" y1="496.7" x2="117.1" y2="499.7" stroke="#231f20" stroke-width="1.0"/>
<line x1="127.9" y1="496.7" x2="127.9" y2="499.7" stroke="#231f20" stroke-width="1.0"/>
<line x1="149.4" y1="496.7" x2="149.4" y2="499.7" stroke="#231f20" stroke-width="1.0"/>
<line x1="159.9" y1="496.7" x2="159.9" y2="499.7" stroke="#231f20" stroke-width="1.0"/>
<text x="64.0" y="509.6" font-size="8.3" text-anchor="middle" textLength="8.1" lengthAdjust="spacingAndGlyphs" fill="#231f20" stroke="#231f20" stroke-width="0.12">14</text>
<text x="74.60000000000001" y="509.6" font-size="8.3" text-anchor="middle" textLength="8.1" lengthAdjust="spacingAndGlyphs" fill="#231f20" stroke="#231f20" stroke-width="0.12">21</text>
<text x="85.2" y="509.6" font-size="8.3" text-anchor="middle" textLength="8.1" lengthAdjust="spacingAndGlyphs" fill="#231f20" stroke="#231f20" stroke-width="0.12">49</text>
<text x="106.7" y="509.6" font-size="8.3" text-anchor="middle" textLength="8.1" lengthAdjust="spacingAndGlyphs" fill="#231f20" stroke="#231f20" stroke-width="0.12">14</text>
<text x="117.5" y="509.6" font-size="8.3" text-anchor="middle" textLength="8.1" lengthAdjust="spacingAndGlyphs" fill="#231f20" stroke="#231f20" stroke-width="0.12">21</text>
<text x="128.3" y="509.6" font-size="8.3" text-anchor="middle" textLength="8.1" lengthAdjust="spacingAndGlyphs" fill="#231f20" stroke="#231f20" stroke-width="0.12">49</text>
<text x="149.8" y="509.6" font-size="8.3" text-anchor="middle" textLength="8.1" lengthAdjust="spacingAndGlyphs" fill="#231f20" stroke="#231f20" stroke-width="0.12">14</text>
<text x="160.3" y="509.6" font-size="8.3" text-anchor="middle" textLength="8.1" lengthAdjust="spacingAndGlyphs" fill="#231f20" stroke="#231f20" stroke-width="0.12">21</text>
<line x1="207.25" y1="408.1" x2="207.25" y2="487.0" stroke="#231f20" stroke-width="1.45"/>
<line x1="204.25" y1="412.5" x2="207.25" y2="412.5" stroke="#231f20" stroke-width="1.0"/>
<text x="201.3" y="415.0" font-size="8.3" text-anchor="end" textLength="8.1" lengthAdjust="spacingAndGlyphs" fill="#231f20" stroke="#231f20" stroke-width="0.12">15</text>
<line x1="204.25" y1="436.6" x2="207.25" y2="436.6" stroke="#231f20" stroke-width="1.0"/>
<text x="201.3" y="439.1" font-size="8.3" text-anchor="end" textLength="8.1" lengthAdjust="spacingAndGlyphs" fill="#231f20" stroke="#231f20" stroke-width="0.12">10</text>
<line x1="204.25" y1="460.7" x2="207.25" y2="460.7" stroke="#231f20" stroke-width="1.0"/>
<text x="201.3" y="463.2" font-size="8.3" text-anchor="end" textLength="4.05" lengthAdjust="spacingAndGlyphs" fill="#231f20" stroke="#231f20" stroke-width="0.12">5</text>
<line x1="204.25" y1="484.8" x2="207.25" y2="484.8" stroke="#231f20" stroke-width="1.0"/>
<text x="201.3" y="487.3" font-size="8.3" text-anchor="end" textLength="4.05" lengthAdjust="spacingAndGlyphs" fill="#231f20" stroke="#231f20" stroke-width="0.12">0</text>
<line x1="216.7" y1="496.1" x2="327.9" y2="496.1" stroke="#231f20" stroke-width="1.5"/>
<line x1="226.75" y1="496.1" x2="226.75" y2="499.1" stroke="#231f20" stroke-width="1.0"/>
<line x1="237.5" y1="496.1" x2="237.5" y2="499.1" stroke="#231f20" stroke-width="1.0"/>
<line x1="248.0" y1="496.1" x2="248.0" y2="499.1" stroke="#231f20" stroke-width="1.0"/>
<line x1="269.5" y1="496.1" x2="269.5" y2="499.1" stroke="#231f20" stroke-width="1.0"/>
<line x1="280.0" y1="496.1" x2="280.0" y2="499.1" stroke="#231f20" stroke-width="1.0"/>
<line x1="290.5" y1="496.1" x2="290.5" y2="499.1" stroke="#231f20" stroke-width="1.0"/>
<line x1="312.5" y1="496.1" x2="312.5" y2="499.1" stroke="#231f20" stroke-width="1.0"/>
<line x1="323.0" y1="496.1" x2="323.0" y2="499.1" stroke="#231f20" stroke-width="1.0"/>
<text x="227.15" y="509.6" font-size="8.3" text-anchor="middle" textLength="8.1" lengthAdjust="spacingAndGlyphs" fill="#231f20" stroke="#231f20" stroke-width="0.12">14</text>
<text x="237.9" y="509.6" font-size="8.3" text-anchor="middle" textLength="8.1" lengthAdjust="spacingAndGlyphs" fill="#231f20" stroke="#231f20" stroke-width="0.12">21</text>
<text x="248.4" y="509.6" font-size="8.3" text-anchor="middle" textLength="8.1" lengthAdjust="spacingAndGlyphs" fill="#231f20" stroke="#231f20" stroke-width="0.12">49</text>
<text x="269.9" y="509.6" font-size="8.3" text-anchor="middle" textLength="8.1" lengthAdjust="spacingAndGlyphs" fill="#231f20" stroke="#231f20" stroke-width="0.12">14</text>
<text x="280.4" y="509.6" font-size="8.3" text-anchor="middle" textLength="8.1" lengthAdjust="spacingAndGlyphs" fill="#231f20" stroke="#231f20" stroke-width="0.12">21</text>
<text x="290.9" y="509.6" font-size="8.3" text-anchor="middle" textLength="8.1" lengthAdjust="spacingAndGlyphs" fill="#231f20" stroke="#231f20" stroke-width="0.12">49</text>
<text x="312.9" y="509.6" font-size="8.3" text-anchor="middle" textLength="8.1" lengthAdjust="spacingAndGlyphs" fill="#231f20" stroke="#231f20" stroke-width="0.12">14</text>
<text x="323.4" y="509.6" font-size="8.3" text-anchor="middle" textLength="8.1" lengthAdjust="spacingAndGlyphs" fill="#231f20" stroke="#231f20" stroke-width="0.12">21</text>
<text x="94.4" y="264.4" font-size="10.56" fill="#231f20" stroke="#231f20" stroke-width="0.14"><tspan textLength="25.20" lengthAdjust="spacingAndGlyphs">CD10</tspan><tspan dx="0.5" dy="-2.8" font-size="7.6">+</tspan></text>
<text x="271.9" y="263.7" font-size="10.04" text-anchor="middle" fill="#231f20" stroke="#231f20" stroke-width="0.14" textLength="46.35" lengthAdjust="spacingAndGlyphs">CLP / ProB</text>
<text x="109.4" y="399.5" font-size="10.04" text-anchor="middle" fill="#231f20" stroke="#231f20" stroke-width="0.14" textLength="20.68" lengthAdjust="spacingAndGlyphs">PreB</text>
<text x="272.1" y="399.2" font-size="10.04" text-anchor="middle" fill="#231f20" stroke="#231f20" stroke-width="0.14" textLength="24.28" lengthAdjust="spacingAndGlyphs">ImmB</text>
<text transform="translate(16.2,312.6) rotate(-90)" font-size="10.4" text-anchor="middle" fill="#231f20" stroke="#231f20" stroke-width="0.12" textLength="22.7" lengthAdjust="spacingAndGlyphs">Counts</text>
<text transform="translate(183.4,330.7) rotate(-90)" font-size="10.0" fill="#231f20" stroke="#231f20" stroke-width="0.1"><tspan textLength="34.6" lengthAdjust="spacingAndGlyphs">% of CD10</tspan><tspan dy="-3.6" font-size="7.0">+</tspan></text>
<text transform="translate(24.6,465.7) rotate(-90)" font-size="10.0" fill="#231f20" stroke="#231f20" stroke-width="0.1"><tspan textLength="34.6" lengthAdjust="spacingAndGlyphs">% of CD10</tspan><tspan dy="-3.6" font-size="7.0">+</tspan></text>
<text transform="translate(188.3,467.4) rotate(-90)" font-size="10.0" fill="#231f20" stroke="#231f20" stroke-width="0.1"><tspan textLength="34.6" lengthAdjust="spacingAndGlyphs">% of CD10</tspan><tspan dy="-3.6" font-size="7.0">+</tspan></text>
<text x="84.9" y="522.5" font-size="9.2" textLength="48.3" lengthAdjust="spacingAndGlyphs" fill="#231f20" stroke="#231f20" stroke-width="0.14">Days in culture</text>
<text x="247.9" y="522.8" font-size="9.2" textLength="48.5" lengthAdjust="spacingAndGlyphs" fill="#231f20" stroke="#231f20" stroke-width="0.14">Days in culture</text>
<circle cx="336.3" cy="325.6" r="2.1" fill="#fff" stroke="#e6a03a" stroke-width="0.9"/>
<text x="341.7" y="328.1" font-size="7.2" fill="#231f20" stroke="#231f20" stroke-width="0.14">HD1</text>
<rect x="334.2" y="334.46" width="4.2" height="4.2" fill="#fff" stroke="#e6a03a" stroke-width="0.9"/>
<text x="341.7" y="339.06" font-size="7.2" fill="#231f20" stroke="#231f20" stroke-width="0.14">HD2</text>
<path d="M336.3,345.21000000000004 L338.505,349.20000000000005 L334.095,349.20000000000005 Z" fill="#fff" stroke="#e6a03a" stroke-width="0.9"/>
<text x="341.7" y="350.02000000000004" font-size="7.2" fill="#231f20" stroke="#231f20" stroke-width="0.14">HD3</text>
<path d="M336.3,360.79 L338.505,356.8 L334.095,356.8 Z" fill="#fff" stroke="#e6a03a" stroke-width="0.9"/>
<text x="341.7" y="360.98" font-size="7.2" fill="#231f20" stroke="#231f20" stroke-width="0.14">HD4</text>
<path d="M336.3,367.02500000000003 L338.71500000000003,369.44000000000005 L336.3,371.8550000000001 L333.885,369.44000000000005 Z" fill="#fff" stroke="#e6a03a" stroke-width="0.9"/>
<text x="341.7" y="371.94000000000005" font-size="7.2" fill="#231f20" stroke="#231f20" stroke-width="0.14">HD5</text>
<circle cx="336.3" cy="380.40000000000003" r="1.8900000000000001" fill="#fff" stroke="#e6a03a" stroke-width="0.9"/>
<text x="341.7" y="382.90000000000003" font-size="7.2" fill="#231f20" stroke="#231f20" stroke-width="0.14">HD6</text>
<circle cx="336.3" cy="391.36" r="2.1" fill="#fff" stroke="#e6a03a" stroke-width="0.9"/><path d="M335.04,390.1 L337.56,392.62 M337.56,390.1 L335.04,392.62" stroke="#e6a03a" stroke-width="0.9"/>
<text x="341.7" y="393.86" font-size="7.2" fill="#231f20" stroke="#231f20" stroke-width="0.14">HD7</text>
<rect x="334.2" y="400.22" width="4.2" height="4.2" fill="#fff" stroke="#e6a03a" stroke-width="0.9"/><path d="M334.2,400.22 L338.40000000000003,404.4200000000001 M338.40000000000003,400.22 L334.2,404.4200000000001" stroke="#e6a03a" stroke-width="0.7200000000000001"/>
<text x="341.7" y="404.82000000000005" font-size="7.2" fill="#231f20" stroke="#231f20" stroke-width="0.14">HD8</text>
<path d="M336.3,410.76000000000005 L338.82,413.28000000000003 L336.3,415.8 L333.78000000000003,413.28000000000003 Z" fill="#e6a03a" stroke="#e6a03a" stroke-width="0.45"/>
<text x="341.7" y="415.78000000000003" font-size="7.2" fill="#231f20" stroke="#231f20" stroke-width="0.14">HD9</text>
<circle cx="336.3" cy="424.24" r="2.1" fill="#1f3d84"/>
<text x="341.7" y="426.74" font-size="7.2" fill="#231f20" stroke="#231f20" stroke-width="0.14">BTK1</text>
<rect x="334.2" y="433.1" width="4.2" height="4.2" fill="#1f3d84"/>
<text x="341.7" y="437.70000000000005" font-size="7.2" fill="#231f20" stroke="#231f20" stroke-width="0.14">BTK2</text>
<circle cx="336.3" cy="446.16" r="2.1" fill="#a3142f"/>
<text x="341.7" y="448.66" font-size="7.2" fill="#231f20" stroke="#231f20" stroke-width="0.14">Ikaros</text>
<text x="376.7" y="262.4" font-size="10.6" font-weight="bold" fill="#000" stroke="#000" stroke-width="0.3">E</text>
<line x1="413.75" y1="266.5" x2="413.75" y2="310.5" stroke="#231f20" stroke-width="1.45"/>
<line x1="410.75" y1="268.75" x2="413.75" y2="268.75" stroke="#231f20" stroke-width="1.0"/>
<text x="407.6" y="271.25" font-size="8.3" text-anchor="end" textLength="17.0" lengthAdjust="spacingAndGlyphs" fill="#231f20" stroke="#231f20" stroke-width="0.12">3000</text>
<line x1="410.75" y1="282.4" x2="413.75" y2="282.4" stroke="#231f20" stroke-width="1.0"/>
<text x="407.6" y="284.9" font-size="8.3" text-anchor="end" textLength="17.0" lengthAdjust="spacingAndGlyphs" fill="#231f20" stroke="#231f20" stroke-width="0.12">2000</text>
<line x1="410.75" y1="295.8" x2="413.75" y2="295.8" stroke="#231f20" stroke-width="1.0"/>
<text x="407.6" y="298.3" font-size="8.3" text-anchor="end" textLength="17.0" lengthAdjust="spacingAndGlyphs" fill="#231f20" stroke="#231f20" stroke-width="0.12">1000</text>
<line x1="410.75" y1="308.7" x2="413.75" y2="308.7" stroke="#231f20" stroke-width="1.0"/>
<text x="407.6" y="311.2" font-size="8.3" text-anchor="end" textLength="4.25" lengthAdjust="spacingAndGlyphs" fill="#231f20" stroke="#231f20" stroke-width="0.12">0</text>
<line x1="417.2" y1="315.4" x2="485.1" y2="315.4" stroke="#231f20" stroke-width="1.5"/>
<line x1="420.0" y1="315.4" x2="420.0" y2="318.4" stroke="#231f20" stroke-width="1.0"/>
<line x1="432.5" y1="315.4" x2="432.5" y2="318.4" stroke="#231f20" stroke-width="1.0"/>
<line x1="445.0" y1="315.4" x2="445.0" y2="318.4" stroke="#231f20" stroke-width="1.0"/>
<line x1="457.4" y1="315.4" x2="457.4" y2="318.4" stroke="#231f20" stroke-width="1.0"/>
<line x1="469.9" y1="315.4" x2="469.9" y2="318.4" stroke="#231f20" stroke-width="1.0"/>
<line x1="482.4" y1="315.4" x2="482.4" y2="318.4" stroke="#231f20" stroke-width="1.0"/>
<text x="420.4" y="326.8" font-size="8.3" text-anchor="middle" textLength="8.5" lengthAdjust="spacingAndGlyphs" fill="#231f20" stroke="#231f20" stroke-width="0.12">14</text>
<text x="432.9" y="326.8" font-size="8.3" text-anchor="middle" textLength="8.5" lengthAdjust="spacingAndGlyphs" fill="#231f20" stroke="#231f20" stroke-width="0.12">21</text>
<text x="445.4" y="326.8" font-size="8.3" text-anchor="middle" textLength="8.5" lengthAdjust="spacingAndGlyphs" fill="#231f20" stroke="#231f20" stroke-width="0.12">28</text>
<text x="457.79999999999995" y="326.8" font-size="8.3" text-anchor="middle" textLength="8.5" lengthAdjust="spacingAndGlyphs" fill="#231f20" stroke="#231f20" stroke-width="0.12">35</text>
<text x="469.19999999999993" y="326.8" font-size="8.3" text-anchor="middle" textLength="8.5" lengthAdjust="spacingAndGlyphs" fill="#231f20" stroke="#231f20" stroke-width="0.12">42</text>
<text x="482.79999999999995" y="326.8" font-size="8.3" text-anchor="middle" textLength="8.5" lengthAdjust="spacingAndGlyphs" fill="#231f20" stroke="#231f20" stroke-width="0.12">49</text>
<line x1="413.7" y1="349.3" x2="413.7" y2="390.0" stroke="#231f20" stroke-width="1.45"/>
<line x1="410.7" y1="354.5" x2="413.7" y2="354.5" stroke="#231f20" stroke-width="1.0"/>
<text x="407.6" y="357.0" font-size="8.3" text-anchor="end" textLength="17.0" lengthAdjust="spacingAndGlyphs" fill="#231f20" stroke="#231f20" stroke-width="0.12">3000</text>
<line x1="410.7" y1="366.1" x2="413.7" y2="366.1" stroke="#231f20" stroke-width="1.0"/>
<text x="407.6" y="368.6" font-size="8.3" text-anchor="end" textLength="17.0" lengthAdjust="spacingAndGlyphs" fill="#231f20" stroke="#231f20" stroke-width="0.12">2000</text>
<line x1="410.7" y1="377.4" x2="413.7" y2="377.4" stroke="#231f20" stroke-width="1.0"/>
<text x="407.6" y="379.9" font-size="8.3" text-anchor="end" textLength="17.0" lengthAdjust="spacingAndGlyphs" fill="#231f20" stroke="#231f20" stroke-width="0.12">1000</text>
<line x1="410.7" y1="388.3" x2="413.7" y2="388.3" stroke="#231f20" stroke-width="1.0"/>
<text x="407.6" y="390.8" font-size="8.3" text-anchor="end" textLength="4.25" lengthAdjust="spacingAndGlyphs" fill="#231f20" stroke="#231f20" stroke-width="0.12">0</text>
<line x1="417.5" y1="395.2" x2="485.0" y2="395.2" stroke="#231f20" stroke-width="1.5"/>
<line x1="420.0" y1="395.2" x2="420.0" y2="398.2" stroke="#231f20" stroke-width="1.0"/>
<line x1="432.5" y1="395.2" x2="432.5" y2="398.2" stroke="#231f20" stroke-width="1.0"/>
<line x1="445.0" y1="395.2" x2="445.0" y2="398.2" stroke="#231f20" stroke-width="1.0"/>
<line x1="457.4" y1="395.2" x2="457.4" y2="398.2" stroke="#231f20" stroke-width="1.0"/>
<line x1="469.9" y1="395.2" x2="469.9" y2="398.2" stroke="#231f20" stroke-width="1.0"/>
<line x1="482.4" y1="395.2" x2="482.4" y2="398.2" stroke="#231f20" stroke-width="1.0"/>
<text x="420.4" y="407.6" font-size="8.3" text-anchor="middle" textLength="8.5" lengthAdjust="spacingAndGlyphs" fill="#231f20" stroke="#231f20" stroke-width="0.12">14</text>
<text x="432.9" y="407.6" font-size="8.3" text-anchor="middle" textLength="8.5" lengthAdjust="spacingAndGlyphs" fill="#231f20" stroke="#231f20" stroke-width="0.12">21</text>
<text x="445.4" y="407.6" font-size="8.3" text-anchor="middle" textLength="8.5" lengthAdjust="spacingAndGlyphs" fill="#231f20" stroke="#231f20" stroke-width="0.12">28</text>
<text x="457.79999999999995" y="407.6" font-size="8.3" text-anchor="middle" textLength="8.5" lengthAdjust="spacingAndGlyphs" fill="#231f20" stroke="#231f20" stroke-width="0.12">35</text>
<text x="469.19999999999993" y="407.6" font-size="8.3" text-anchor="middle" textLength="8.5" lengthAdjust="spacingAndGlyphs" fill="#231f20" stroke="#231f20" stroke-width="0.12">42</text>
<text x="482.79999999999995" y="407.6" font-size="8.3" text-anchor="middle" textLength="8.5" lengthAdjust="spacingAndGlyphs" fill="#231f20" stroke="#231f20" stroke-width="0.12">49</text>
<line x1="413.3" y1="429.5" x2="413.3" y2="471.0" stroke="#231f20" stroke-width="1.45"/>
<line x1="410.3" y1="432.1" x2="413.3" y2="432.1" stroke="#231f20" stroke-width="1.0"/>
<text x="407.4" y="434.6" font-size="8.3" text-anchor="end" textLength="12.75" lengthAdjust="spacingAndGlyphs" fill="#231f20" stroke="#231f20" stroke-width="0.12">120</text>
<line x1="410.3" y1="441.4" x2="413.3" y2="441.4" stroke="#231f20" stroke-width="1.0"/>
<text x="407.4" y="443.9" font-size="8.3" text-anchor="end" textLength="8.5" lengthAdjust="spacingAndGlyphs" fill="#231f20" stroke="#231f20" stroke-width="0.12">90</text>
<line x1="410.3" y1="450.6" x2="413.3" y2="450.6" stroke="#231f20" stroke-width="1.0"/>
<text x="407.4" y="453.1" font-size="8.3" text-anchor="end" textLength="8.5" lengthAdjust="spacingAndGlyphs" fill="#231f20" stroke="#231f20" stroke-width="0.12">60</text>
<line x1="410.3" y1="459.8" x2="413.3" y2="459.8" stroke="#231f20" stroke-width="1.0"/>
<text x="407.4" y="462.3" font-size="8.3" text-anchor="end" textLength="8.5" lengthAdjust="spacingAndGlyphs" fill="#231f20" stroke="#231f20" stroke-width="0.12">30</text>
<line x1="410.3" y1="469.1" x2="413.3" y2="469.1" stroke="#231f20" stroke-width="1.0"/>
<text x="407.4" y="471.6" font-size="8.3" text-anchor="end" textLength="4.25" lengthAdjust="spacingAndGlyphs" fill="#231f20" stroke="#231f20" stroke-width="0.12">0</text>
<line x1="416.8" y1="475.3" x2="485.0" y2="475.3" stroke="#231f20" stroke-width="1.5"/>
<line x1="420.0" y1="475.3" x2="420.0" y2="478.3" stroke="#231f20" stroke-width="1.0"/>
<line x1="432.5" y1="475.3" x2="432.5" y2="478.3" stroke="#231f20" stroke-width="1.0"/>
<line x1="445.0" y1="475.3" x2="445.0" y2="478.3" stroke="#231f20" stroke-width="1.0"/>
<line x1="457.4" y1="475.3" x2="457.4" y2="478.3" stroke="#231f20" stroke-width="1.0"/>
<line x1="469.9" y1="475.3" x2="469.9" y2="478.3" stroke="#231f20" stroke-width="1.0"/>
<line x1="482.4" y1="475.3" x2="482.4" y2="478.3" stroke="#231f20" stroke-width="1.0"/>
<text x="420.4" y="487.9" font-size="8.3" text-anchor="middle" textLength="8.5" lengthAdjust="spacingAndGlyphs" fill="#231f20" stroke="#231f20" stroke-width="0.12">14</text>
<text x="432.9" y="487.9" font-size="8.3" text-anchor="middle" textLength="8.5" lengthAdjust="spacingAndGlyphs" fill="#231f20" stroke="#231f20" stroke-width="0.12">21</text>
<text x="445.4" y="487.9" font-size="8.3" text-anchor="middle" textLength="8.5" lengthAdjust="spacingAndGlyphs" fill="#231f20" stroke="#231f20" stroke-width="0.12">28</text>
<text x="457.79999999999995" y="487.9" font-size="8.3" text-anchor="middle" textLength="8.5" lengthAdjust="spacingAndGlyphs" fill="#231f20" stroke="#231f20" stroke-width="0.12">35</text>
<text x="469.19999999999993" y="487.9" font-size="8.3" text-anchor="middle" textLength="8.5" lengthAdjust="spacingAndGlyphs" fill="#231f20" stroke="#231f20" stroke-width="0.12">42</text>
<text x="482.79999999999995" y="487.9" font-size="8.3" text-anchor="middle" textLength="8.5" lengthAdjust="spacingAndGlyphs" fill="#231f20" stroke="#231f20" stroke-width="0.12">49</text>
<line x1="413.3" y1="509.5" x2="413.3" y2="551.0" stroke="#231f20" stroke-width="1.45"/>
<line x1="410.3" y1="512.1" x2="413.3" y2="512.1" stroke="#231f20" stroke-width="1.0"/>
<text x="407.4" y="514.6" font-size="8.3" text-anchor="end" textLength="12.75" lengthAdjust="spacingAndGlyphs" fill="#231f20" stroke="#231f20" stroke-width="0.12">120</text>
<line x1="410.3" y1="521.4" x2="413.3" y2="521.4" stroke="#231f20" stroke-width="1.0"/>
<text x="407.4" y="523.9" font-size="8.3" text-anchor="end" textLength="8.5" lengthAdjust="spacingAndGlyphs" fill="#231f20" stroke="#231f20" stroke-width="0.12">90</text>
<line x1="410.3" y1="530.6" x2="413.3" y2="530.6" stroke="#231f20" stroke-width="1.0"/>
<text x="407.4" y="533.1" font-size="8.3" text-anchor="end" textLength="8.5" lengthAdjust="spacingAndGlyphs" fill="#231f20" stroke="#231f20" stroke-width="0.12">60</text>
<line x1="410.3" y1="539.8" x2="413.3" y2="539.8" stroke="#231f20" stroke-width="1.0"/>
<text x="407.4" y="542.3" font-size="8.3" text-anchor="end" textLength="8.5" lengthAdjust="spacingAndGlyphs" fill="#231f20" stroke="#231f20" stroke-width="0.12">30</text>
<line x1="410.3" y1="549.0" x2="413.3" y2="549.0" stroke="#231f20" stroke-width="1.0"/>
<text x="407.4" y="551.5" font-size="8.3" text-anchor="end" textLength="4.25" lengthAdjust="spacingAndGlyphs" fill="#231f20" stroke="#231f20" stroke-width="0.12">0</text>
<line x1="416.8" y1="555.3" x2="485.0" y2="555.3" stroke="#231f20" stroke-width="1.5"/>
<line x1="420.0" y1="555.3" x2="420.0" y2="558.3" stroke="#231f20" stroke-width="1.0"/>
<line x1="432.5" y1="555.3" x2="432.5" y2="558.3" stroke="#231f20" stroke-width="1.0"/>
<line x1="445.0" y1="555.3" x2="445.0" y2="558.3" stroke="#231f20" stroke-width="1.0"/>
<line x1="457.4" y1="555.3" x2="457.4" y2="558.3" stroke="#231f20" stroke-width="1.0"/>
<line x1="469.9" y1="555.3" x2="469.9" y2="558.3" stroke="#231f20" stroke-width="1.0"/>
<line x1="482.4" y1="555.3" x2="482.4" y2="558.3" stroke="#231f20" stroke-width="1.0"/>
<text x="420.4" y="567.9" font-size="8.3" text-anchor="middle" textLength="8.5" lengthAdjust="spacingAndGlyphs" fill="#231f20" stroke="#231f20" stroke-width="0.12">14</text>
<text x="432.9" y="567.9" font-size="8.3" text-anchor="middle" textLength="8.5" lengthAdjust="spacingAndGlyphs" fill="#231f20" stroke="#231f20" stroke-width="0.12">21</text>
<text x="445.4" y="567.9" font-size="8.3" text-anchor="middle" textLength="8.5" lengthAdjust="spacingAndGlyphs" fill="#231f20" stroke="#231f20" stroke-width="0.12">28</text>
<text x="457.79999999999995" y="567.9" font-size="8.3" text-anchor="middle" textLength="8.5" lengthAdjust="spacingAndGlyphs" fill="#231f20" stroke="#231f20" stroke-width="0.12">35</text>
<text x="469.19999999999993" y="567.9" font-size="8.3" text-anchor="middle" textLength="8.5" lengthAdjust="spacingAndGlyphs" fill="#231f20" stroke="#231f20" stroke-width="0.12">42</text>
<text x="482.79999999999995" y="567.9" font-size="8.3" text-anchor="middle" textLength="8.5" lengthAdjust="spacingAndGlyphs" fill="#231f20" stroke="#231f20" stroke-width="0.12">49</text>
<text x="451.2" y="260.9" font-size="10.04" text-anchor="middle" fill="#231f20" stroke="#231f20" stroke-width="0.14" textLength="17.58" lengthAdjust="spacingAndGlyphs">E2A</text>
<text x="451.4" y="342.9" font-size="10.04" text-anchor="middle" fill="#231f20" stroke="#231f20" stroke-width="0.14" textLength="17.58" lengthAdjust="spacingAndGlyphs">E2A</text>
<text x="451.4" y="423.7" font-size="10.04" text-anchor="middle" fill="#231f20" stroke="#231f20" stroke-width="0.14" textLength="23.09" lengthAdjust="spacingAndGlyphs">PAX5</text>
<text x="451.4" y="503.7" font-size="10.04" text-anchor="middle" fill="#231f20" stroke="#231f20" stroke-width="0.14" textLength="23.09" lengthAdjust="spacingAndGlyphs">PAX5</text>
<text transform="translate(490.6,289.4) rotate(90)" font-size="10.0" text-anchor="middle" fill="#231f20" stroke="#231f20" stroke-width="0.12" textLength="13.4" lengthAdjust="spacingAndGlyphs">HD</text>
<text transform="translate(490.9,370.5) rotate(90)" font-size="10.0" text-anchor="middle" fill="#231f20" stroke="#231f20" stroke-width="0.12" textLength="16.5" lengthAdjust="spacingAndGlyphs">BTK</text>
<text transform="translate(490.9,450.7) rotate(90)" font-size="10.0" text-anchor="middle" fill="#231f20" stroke="#231f20" stroke-width="0.12" textLength="13.4" lengthAdjust="spacingAndGlyphs">HD</text>
<text transform="translate(490.6,530.9) rotate(90)" font-size="10.0" text-anchor="middle" fill="#231f20" stroke="#231f20" stroke-width="0.12" textLength="16.5" lengthAdjust="spacingAndGlyphs">BTK</text>
<text transform="translate(385.7,413.0) rotate(-90)" font-size="10.0" text-anchor="middle" fill="#231f20" stroke="#231f20" stroke-width="0.12" textLength="73.7" lengthAdjust="spacingAndGlyphs">Normalized to CD79α</text>
<text x="427.0" y="580.9" font-size="9.2" textLength="48.7" lengthAdjust="spacingAndGlyphs" fill="#231f20" stroke="#231f20" stroke-width="0.14">Days in culture</text>
</svg>
</body></html>
